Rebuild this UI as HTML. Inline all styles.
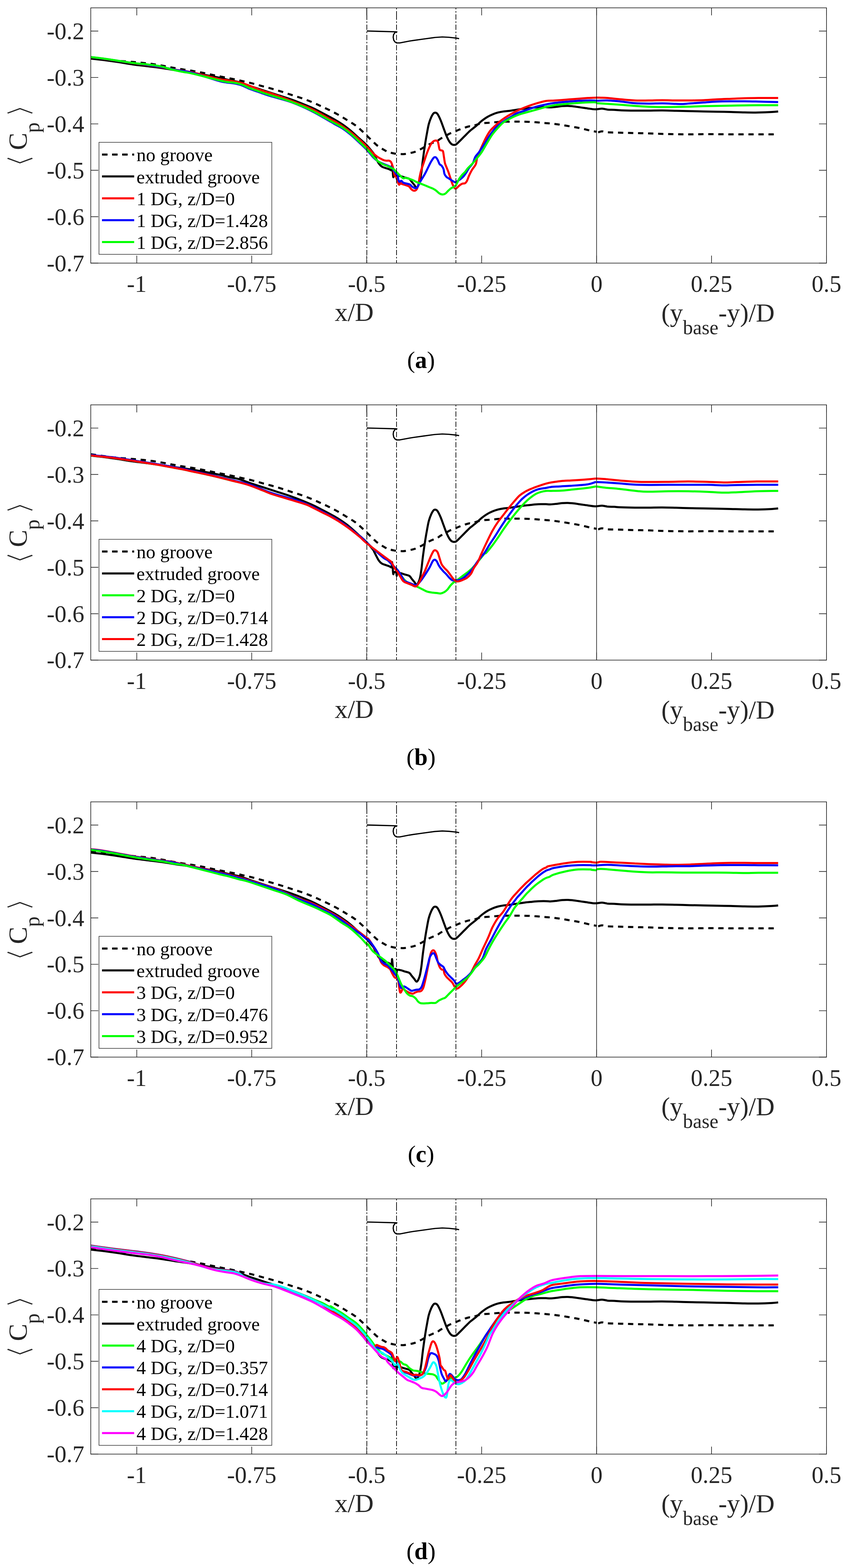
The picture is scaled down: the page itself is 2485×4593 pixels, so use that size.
<!DOCTYPE html>
<html><head><meta charset="utf-8"><title>Pressure coefficient plots</title><style>
html,body{margin:0;padding:0;background:#fff;}
svg{display:block;}
.tl{font-family:"Liberation Serif","Times New Roman",serif;font-size:69.5px;fill:#262626;}
.al{font-family:"Liberation Serif","Times New Roman",serif;font-size:76px;fill:#262626;}
.sub{font-size:58.5px;}
.sub2{font-size:61px;}
.br{font-family:"Liberation Sans","Noto Sans CJK JP","Noto Sans CJK SC",sans-serif;font-size:100px;fill:#262626;}
.lg{font-family:"Liberation Serif","Times New Roman",serif;font-size:55.4px;fill:#000;}
.cap{font-family:"Liberation Serif","Times New Roman",serif;font-size:70px;fill:#000;}
</style></head>
<body><svg width="2485" height="4593" viewBox="0 0 2485 4593">
<rect width="2485" height="4593" fill="#fff"/>
<path d="M266.0 167.5C271.7 168.3 287.7 170.8 300.0 172.5C312.3 174.2 325.0 176.0 340.0 177.5C355.0 179.0 376.8 180.5 390.2 181.6C403.6 182.8 410.5 183.4 420.3 184.4C430.2 185.5 439.5 186.4 449.4 187.9C459.2 189.3 469.6 191.2 479.5 193.0C489.4 194.8 498.9 196.9 508.6 198.6C518.2 200.4 527.9 202.0 537.6 203.6C547.3 205.2 557.1 206.4 566.7 208.1C576.3 209.8 585.9 211.6 595.4 213.5C604.9 215.4 614.5 217.6 624.0 219.6C633.5 221.6 642.8 223.4 652.7 225.4C662.6 227.4 673.3 229.4 683.2 231.5C693.1 233.6 702.4 235.8 712.0 238.0C721.6 240.2 731.2 242.3 740.6 244.7C750.0 247.1 759.2 249.8 768.7 252.4C778.2 255.0 787.8 257.4 797.4 260.1C807.0 262.9 816.5 265.7 826.1 268.7C835.6 271.8 845.2 275.1 854.8 278.2C864.3 281.3 873.9 284.0 883.5 287.4C893.0 290.7 903.1 294.6 912.2 298.3C921.3 302.0 929.4 305.8 938.0 309.8C946.6 313.7 955.0 317.5 963.8 321.8C972.7 326.2 982.2 331.1 991.0 336.0C999.8 340.9 1008.2 346.2 1016.7 351.5C1025.2 356.8 1034.0 361.6 1042.0 367.5C1050.0 373.4 1057.1 380.4 1064.4 387.1C1071.7 393.8 1078.4 400.9 1085.6 407.7C1092.8 414.5 1099.6 421.9 1107.4 427.8C1115.2 433.7 1127.9 440.4 1132.7 443.3C1137.5 446.2 1132.6 443.9 1136.1 444.9C1139.5 445.9 1148.5 448.3 1153.3 449.2C1158.1 450.2 1160.0 450.3 1164.8 450.6C1169.6 451.0 1177.2 451.6 1182.0 451.5C1186.8 451.4 1188.7 450.6 1193.5 449.8C1198.3 448.9 1205.9 447.6 1210.7 446.3C1215.5 445.1 1217.4 444.2 1222.2 442.0C1226.9 439.9 1234.6 436.1 1239.4 433.4C1244.2 430.8 1246.1 428.8 1250.9 426.3C1255.6 423.7 1263.3 420.2 1268.1 418.2C1272.9 416.2 1275.7 416.2 1279.6 414.2C1283.4 412.2 1287.2 408.5 1291.0 406.2C1294.9 403.9 1298.2 402.8 1302.5 400.4C1306.8 398.0 1312.1 394.2 1316.9 391.8C1321.6 389.4 1326.4 388.1 1331.2 386.1C1336.0 384.1 1340.8 381.7 1345.6 379.8C1350.3 377.9 1355.1 376.2 1359.9 374.6C1364.7 373.0 1370.4 371.1 1374.2 370.3C1378.1 369.5 1377.3 371.2 1383.0 369.8C1388.7 368.4 1399.3 363.8 1408.4 362.0C1417.5 360.2 1427.4 360.2 1437.4 359.3C1447.4 358.4 1458.1 357.2 1468.3 356.7C1478.5 356.2 1488.5 356.4 1498.4 356.4C1508.3 356.3 1517.7 356.2 1527.5 356.4C1537.3 356.5 1547.6 356.8 1557.4 357.3C1567.2 357.8 1576.7 358.6 1586.3 359.4C1595.9 360.2 1605.6 360.9 1615.2 361.9C1624.8 362.9 1634.3 364.2 1643.9 365.6C1653.5 367.1 1663.0 368.8 1672.6 370.5C1682.2 372.2 1691.7 373.7 1701.3 375.7C1710.9 377.7 1722.2 380.8 1730.0 382.6C1737.7 384.3 1744.8 385.4 1747.8 386.0" fill="none" stroke="#000" stroke-width="6.0" stroke-linejoin="round" stroke-dasharray="15.5 13.9"/>
<path d="M1752.9 387.9C1754.7 387.3 1759.6 384.7 1764.1 384.7C1768.7 384.6 1770.8 386.8 1780.2 387.5C1789.5 388.1 1807.0 388.3 1820.3 388.7C1833.7 389.1 1847.1 389.6 1860.5 389.9C1873.9 390.2 1887.3 390.3 1900.7 390.7C1914.1 391.1 1927.5 391.9 1940.9 392.3C1954.3 392.7 1967.6 392.9 1981.0 393.1C1994.4 393.3 2007.8 393.5 2021.2 393.5C2034.6 393.5 2048.0 393.2 2061.4 393.1C2074.8 393.0 2088.2 393.0 2101.5 393.1C2114.9 393.2 2128.3 393.4 2141.7 393.5C2155.1 393.6 2168.5 393.5 2181.9 393.5C2195.3 393.5 2205.7 393.5 2222.1 393.5C2238.5 393.5 2270.6 393.5 2280.3 393.5" fill="none" stroke="#000" stroke-width="6.0" stroke-linejoin="round" stroke-dasharray="15.5 13.9"/>
<path d="M265.4 171.5C271.7 172.2 289.6 174.1 303.0 175.8C316.5 177.5 331.7 179.7 346.1 181.9C360.4 184.0 374.8 186.7 389.1 188.7C403.5 190.8 417.8 192.3 432.2 194.1C446.5 195.9 460.9 197.5 475.2 199.5C489.6 201.5 504.1 204.2 518.2 206.4C532.4 208.5 539.7 209.0 560.0 212.4C580.3 215.8 621.2 223.2 640.0 227.0C658.8 230.8 662.5 232.8 672.5 235.0C682.5 237.2 688.8 237.3 700.0 240.5C711.2 243.7 723.8 249.0 740.0 254.4C756.2 259.8 778.3 266.8 797.4 273.0C816.5 279.3 835.6 284.8 854.8 291.7C873.9 298.6 897.8 308.4 912.2 314.6C926.5 320.9 929.6 323.1 940.9 329.0C952.2 334.9 969.6 343.9 980.0 349.8C990.4 355.7 995.4 358.9 1003.0 364.1C1010.6 369.4 1018.3 375.0 1025.9 381.3C1033.6 387.6 1040.9 394.7 1048.9 402.0C1056.9 409.3 1066.6 417.2 1074.1 424.9C1081.5 432.5 1090.0 443.4 1093.6 447.9C1097.2 452.4 1094.3 449.0 1095.9 452.1C1097.5 455.2 1100.7 461.9 1103.1 466.4C1105.5 471.0 1107.6 475.8 1110.3 479.3C1112.9 482.9 1115.5 485.8 1118.9 487.9C1122.2 490.1 1127.0 491.1 1130.3 492.3C1133.7 493.4 1136.6 494.2 1139.0 495.1C1141.3 496.1 1143.3 497.5 1144.7 498.0C1146.1 498.5 1146.8 500.4 1147.6 498.0C1148.3 495.6 1148.5 483.2 1149.0 483.6C1149.5 484.1 1150.1 495.0 1150.7 500.9C1151.3 506.7 1151.8 516.5 1152.4 518.7C1153.1 520.8 1153.1 514.7 1154.4 513.8C1155.8 512.8 1159.1 511.2 1160.5 512.9C1161.8 514.6 1161.9 523.4 1162.5 523.8C1163.1 524.2 1161.9 516.4 1164.2 515.2C1166.5 514.0 1172.8 515.9 1176.3 516.6C1179.7 517.4 1181.0 518.3 1184.9 519.5C1188.7 520.7 1195.6 521.7 1199.2 523.8C1202.8 526.0 1204.0 529.6 1206.4 532.4C1208.8 535.3 1211.2 538.2 1213.6 541.0C1215.9 543.9 1218.6 549.4 1220.7 549.6C1222.9 549.9 1224.8 545.8 1226.5 542.5C1228.1 539.1 1229.3 536.0 1230.8 529.6C1232.2 523.1 1233.6 514.3 1235.1 503.7C1236.5 493.2 1237.7 479.3 1239.4 466.4C1241.1 453.5 1243.2 438.7 1245.1 426.3C1247.0 413.8 1248.9 402.3 1250.9 391.8C1252.8 381.3 1254.4 371.3 1256.6 363.1C1258.8 355.0 1261.4 348.3 1263.8 343.0C1266.2 337.8 1268.8 333.7 1270.9 331.6C1273.1 329.4 1274.8 329.7 1276.7 330.1C1278.6 330.6 1280.0 330.8 1282.4 334.4C1284.8 338.0 1288.2 345.0 1291.0 351.6C1293.9 358.3 1296.8 367.0 1299.6 374.6C1302.5 382.3 1305.4 390.9 1308.2 397.6C1311.1 404.3 1314.0 410.5 1316.9 414.8C1319.7 419.1 1322.4 422.0 1325.5 423.4C1328.6 424.8 1332.2 424.8 1335.5 423.4C1338.9 422.0 1341.5 418.6 1345.6 414.8C1349.6 411.0 1355.1 405.2 1359.9 400.4C1364.7 395.6 1370.9 389.3 1374.2 386.1C1377.6 382.8 1376.4 383.9 1380.0 381.0C1383.6 378.1 1390.5 372.9 1395.8 368.4C1401.1 363.9 1406.3 358.4 1411.6 354.2C1416.8 350.0 1422.0 346.3 1427.3 343.1C1432.5 339.9 1437.8 337.4 1443.1 335.2C1448.4 333.0 1453.6 331.1 1458.9 329.7C1464.2 328.3 1469.4 327.4 1474.7 326.6C1480.0 325.8 1485.2 325.7 1490.5 325.0C1495.8 324.3 1501.0 323.4 1506.3 322.6C1511.5 321.8 1516.8 321.0 1522.0 320.2C1527.2 319.4 1532.5 318.5 1537.8 317.9C1543.1 317.2 1548.3 316.8 1553.6 316.3C1558.9 315.8 1564.1 315.1 1569.4 314.7C1574.7 314.3 1580.1 314.0 1585.2 313.9C1590.3 313.8 1595.5 313.8 1600.0 313.9C1604.5 314.0 1607.4 314.7 1612.3 314.6C1617.3 314.4 1623.8 313.7 1629.6 313.1C1635.3 312.5 1641.0 311.3 1646.8 310.8C1652.5 310.4 1658.2 310.1 1664.0 310.3C1669.7 310.4 1675.0 311.0 1681.2 311.7C1687.4 312.4 1694.6 313.6 1701.3 314.6C1708.0 315.5 1714.2 316.5 1721.4 317.4C1728.6 318.4 1737.2 320.2 1744.3 320.3C1751.5 320.4 1758.2 318.1 1764.4 318.3C1770.6 318.4 1775.7 320.6 1781.6 321.2C1787.6 321.7 1793.5 321.4 1800.0 321.7C1806.5 322.1 1810.3 322.8 1820.3 323.2C1830.4 323.6 1847.1 323.9 1860.5 324.0C1873.9 324.1 1887.3 324.1 1900.7 324.0C1914.1 323.9 1927.5 323.5 1940.9 323.6C1954.3 323.7 1967.6 324.1 1981.0 324.4C1994.4 324.7 2007.8 325.3 2021.2 325.6C2034.6 325.9 2048.0 326.1 2061.4 326.4C2074.8 326.7 2088.2 326.9 2101.5 327.2C2114.9 327.5 2128.3 327.7 2141.7 328.0C2155.1 328.4 2168.5 329.0 2181.9 329.2C2195.3 329.5 2208.7 329.8 2222.1 329.6C2235.5 329.4 2252.5 328.6 2262.2 328.0C2271.9 327.5 2277.3 326.7 2280.3 326.4" fill="none" stroke="#000" stroke-width="6.0" stroke-linejoin="round" />
<path d="M265.4 167.6C271.7 168.4 289.6 170.3 303.0 172.2C316.5 174.0 331.7 176.5 346.1 178.6C360.4 180.8 374.8 183.0 389.1 185.1C403.5 187.1 417.8 188.8 432.2 190.9C446.5 192.9 460.9 195.0 475.2 197.3C489.6 199.7 504.1 202.5 518.2 204.9C532.4 207.2 539.7 206.9 560.0 211.3C580.3 215.7 622.8 227.3 640.0 231.2C657.2 235.1 655.4 233.2 663.0 234.5C670.6 235.8 678.2 237.3 685.9 238.8C693.5 240.3 701.2 241.4 708.9 243.5C716.5 245.6 724.1 248.5 731.8 251.3C739.4 254.1 747.1 257.6 754.8 260.5C762.4 263.4 770.2 266.0 777.7 268.5C785.2 271.0 787.2 270.8 800.0 275.4C812.8 280.0 836.1 288.7 854.8 296.0C873.5 303.3 893.0 309.9 912.2 319.0C931.3 328.0 958.2 344.5 969.6 350.5C980.9 356.5 974.4 351.7 980.0 354.9C985.6 358.1 995.4 364.3 1003.0 369.5C1010.6 374.7 1018.1 379.8 1025.9 385.9C1033.7 392.0 1042.0 398.9 1050.0 406.0C1058.0 413.1 1066.6 421.0 1074.1 428.4C1081.6 435.8 1089.4 445.0 1094.8 450.2C1100.2 455.4 1103.2 457.2 1106.3 459.4C1109.4 461.6 1110.1 461.9 1113.1 463.6C1116.2 465.2 1121.3 468.1 1124.6 469.3C1128.0 470.5 1130.6 470.5 1133.2 470.7C1135.8 471.0 1138.2 470.0 1140.4 470.7C1142.5 471.4 1144.5 472.4 1146.1 475.0C1147.8 477.7 1149.1 482.2 1150.4 486.5C1151.7 490.8 1152.9 496.3 1153.9 500.9C1154.8 505.4 1155.1 510.9 1156.2 513.8C1157.3 516.6 1159.0 515.9 1160.5 518.1C1161.9 520.2 1163.6 523.3 1164.8 526.7C1166.0 530.0 1166.7 535.8 1167.6 538.2C1168.6 540.6 1169.6 541.5 1170.5 541.0C1171.5 540.6 1172.4 535.8 1173.4 535.3C1174.3 534.8 1174.3 537.2 1176.3 538.2C1178.2 539.1 1182.0 540.1 1184.9 541.0C1187.7 542.0 1191.1 542.9 1193.5 543.9C1195.9 544.9 1197.3 545.1 1199.2 546.8C1201.1 548.4 1203.0 552.0 1204.9 553.9C1206.9 555.9 1208.5 557.6 1210.7 558.2C1212.8 558.9 1215.9 558.6 1217.9 557.7C1219.8 556.7 1220.7 555.8 1222.2 552.5C1223.6 549.3 1225.3 543.4 1226.5 538.2C1227.7 532.9 1228.1 527.2 1229.3 520.9C1230.5 514.7 1232.0 507.1 1233.6 500.9C1235.3 494.6 1237.5 489.4 1239.4 483.6C1241.3 477.9 1243.2 472.2 1245.1 466.4C1247.0 460.7 1248.9 454.5 1250.9 449.2C1252.8 444.0 1254.4 439.6 1256.6 434.9C1258.8 430.1 1261.4 424.1 1263.8 420.5C1266.2 416.9 1268.3 414.8 1270.9 413.3C1273.6 411.9 1277.4 411.2 1279.6 411.9C1281.7 412.6 1282.4 413.3 1283.9 417.6C1285.3 422.0 1286.5 433.9 1288.2 437.7C1289.8 441.6 1292.2 439.6 1293.9 440.6C1295.6 441.6 1297.0 440.1 1298.2 443.5C1299.4 446.8 1300.1 454.9 1301.1 460.7C1302.0 466.4 1302.7 473.1 1303.9 477.9C1305.1 482.7 1306.6 485.1 1308.2 489.4C1309.9 493.7 1312.1 498.5 1314.0 503.7C1315.9 509.0 1317.8 515.2 1319.7 520.9C1321.6 526.7 1323.6 533.4 1325.5 538.2C1327.4 542.9 1329.5 547.3 1331.2 549.6C1332.9 552.0 1334.1 552.5 1335.5 552.5C1336.9 552.5 1338.1 551.1 1339.8 549.6C1341.5 548.2 1343.2 545.8 1345.6 543.9C1347.9 542.0 1351.3 539.4 1354.2 538.2C1357.0 537.0 1360.4 538.2 1362.8 536.7C1365.2 535.3 1366.6 533.1 1368.5 529.6C1370.4 526.0 1371.9 520.5 1374.2 515.2C1376.6 509.9 1379.5 503.7 1382.9 498.0C1386.2 492.3 1391.7 487.1 1394.3 480.8C1397.0 474.4 1396.0 468.5 1398.9 460.0C1401.8 451.5 1407.4 439.4 1411.6 429.9C1415.8 420.4 1420.0 411.0 1424.2 403.1C1428.4 395.2 1432.3 388.4 1436.8 382.6C1441.3 376.8 1446.0 373.1 1451.0 368.4C1456.0 363.7 1461.5 358.4 1466.8 354.2C1472.1 350.0 1477.3 346.5 1482.6 343.1C1487.9 339.7 1493.1 336.7 1498.4 333.7C1503.7 330.7 1507.6 328.2 1514.2 325.0C1520.8 321.8 1528.6 318.2 1537.8 314.7C1547.0 311.1 1559.0 306.8 1569.4 303.7C1579.8 300.6 1590.9 297.3 1600.0 295.8C1609.1 294.3 1615.1 295.0 1623.8 294.5C1632.6 293.9 1642.9 293.2 1652.5 292.5C1662.1 291.8 1671.6 290.9 1681.2 290.2C1690.8 289.4 1701.8 288.5 1709.9 287.9C1718.0 287.3 1723.6 287.1 1730.0 286.7C1736.4 286.4 1743.3 285.9 1748.4 285.9C1753.4 285.8 1754.8 286.0 1760.1 286.2C1765.4 286.4 1770.1 286.2 1780.2 287.0C1790.2 287.8 1807.0 289.9 1820.3 291.1C1833.7 292.3 1847.1 293.7 1860.5 294.3C1873.9 294.8 1887.3 294.4 1900.7 294.3C1914.1 294.1 1927.5 293.5 1940.9 293.5C1954.3 293.5 1967.6 294.1 1981.0 294.3C1994.4 294.4 2007.8 294.4 2021.2 294.3C2034.6 294.1 2048.0 294.0 2061.4 293.5C2074.8 292.9 2088.2 291.7 2101.5 291.1C2114.9 290.4 2128.3 290.0 2141.7 289.5C2155.1 288.9 2168.5 288.2 2181.9 287.8C2195.3 287.4 2205.7 287.2 2222.1 287.0C2238.5 286.9 2270.6 287.0 2280.3 287.0" fill="none" stroke="#f00" stroke-width="6.0" stroke-linejoin="round" />
<path d="M265.4 167.2C271.7 168.0 289.6 169.9 303.0 171.7C316.5 173.6 331.7 176.0 346.1 178.2C360.4 180.3 374.8 182.7 389.1 184.6C403.5 186.6 417.8 188.1 432.2 190.0C446.5 192.0 460.9 193.9 475.2 196.5C489.6 199.1 504.1 202.9 518.2 205.5C532.4 208.2 539.7 207.2 560.0 212.4C580.3 217.6 622.8 231.7 640.0 236.5C657.2 241.3 655.4 240.2 663.0 241.5C670.6 242.8 678.2 243.0 685.9 244.4C693.5 245.8 701.2 247.5 708.9 250.2C716.5 252.9 724.1 257.4 731.8 260.5C739.4 263.6 747.1 265.8 754.8 268.5C762.4 271.2 770.2 274.1 777.7 276.6C785.2 279.1 787.2 279.6 800.0 283.5C812.8 287.4 836.1 292.9 854.8 299.7C873.5 306.6 893.0 315.2 912.2 324.7C931.3 334.2 958.2 350.4 969.6 356.8C980.9 363.2 974.4 360.0 980.0 363.2C985.6 366.4 995.4 370.8 1003.0 375.8C1010.6 380.8 1018.3 386.7 1025.9 393.0C1033.6 399.3 1040.9 406.2 1048.9 413.7C1056.9 421.2 1066.4 429.8 1074.1 437.8C1081.8 445.8 1089.3 456.2 1094.8 461.9C1100.3 467.6 1102.9 469.3 1107.4 472.2C1111.9 475.1 1117.0 477.2 1121.7 479.3C1126.5 481.5 1131.8 483.2 1136.1 485.1C1140.4 487.0 1144.7 488.7 1147.6 490.8C1150.4 493.0 1151.4 495.4 1153.3 498.0C1155.2 500.6 1157.1 504.0 1159.0 506.6C1161.0 509.2 1163.3 510.4 1164.8 513.8C1166.2 517.1 1166.7 523.6 1167.6 526.7C1168.6 529.8 1169.1 531.9 1170.5 532.4C1172.0 532.9 1174.3 529.1 1176.3 529.6C1178.2 530.0 1179.1 533.9 1182.0 535.3C1184.9 536.7 1190.1 537.2 1193.5 538.2C1196.8 539.1 1199.7 539.6 1202.1 541.0C1204.5 542.5 1205.4 545.1 1207.8 546.8C1210.2 548.4 1214.0 550.6 1216.4 551.1C1218.8 551.6 1220.3 551.8 1222.2 549.6C1224.1 547.5 1225.5 542.5 1227.9 538.2C1230.3 533.9 1233.6 528.6 1236.5 523.8C1239.4 519.0 1242.3 514.7 1245.1 509.5C1248.0 504.2 1250.9 498.0 1253.7 492.3C1256.6 486.5 1259.5 480.1 1262.3 475.0C1265.2 470.0 1268.6 464.5 1270.9 462.1C1273.3 459.7 1274.8 459.7 1276.7 460.7C1278.6 461.6 1280.5 464.5 1282.4 467.9C1284.3 471.2 1286.3 477.9 1288.2 480.8C1290.1 483.6 1292.0 482.7 1293.9 485.1C1295.8 487.5 1298.2 491.1 1299.6 495.1C1301.1 499.2 1301.1 505.6 1302.5 509.5C1303.9 513.3 1305.9 515.7 1308.2 518.1C1310.6 520.5 1314.0 521.9 1316.9 523.8C1319.7 525.7 1322.6 527.9 1325.5 529.6C1328.3 531.2 1331.7 533.6 1334.1 533.9C1336.5 534.1 1337.4 532.4 1339.8 531.0C1342.2 529.6 1345.6 527.4 1348.4 525.3C1351.3 523.1 1354.2 521.2 1357.0 518.1C1359.9 515.0 1362.8 510.9 1365.6 506.6C1368.5 502.3 1370.9 497.0 1374.2 492.3C1377.6 487.5 1382.7 483.3 1385.7 477.9C1388.8 472.5 1389.6 465.4 1392.6 460.0C1395.6 454.6 1399.2 452.0 1403.7 445.7C1408.2 439.4 1414.2 430.1 1419.5 422.0C1424.8 413.9 1430.0 404.4 1435.2 396.8C1440.5 389.2 1445.7 382.1 1451.0 376.3C1456.3 370.5 1461.5 366.3 1466.8 362.1C1472.1 357.9 1477.3 354.4 1482.6 351.0C1487.9 347.6 1493.1 344.8 1498.4 341.6C1503.7 338.5 1507.6 335.0 1514.2 332.1C1520.8 329.2 1528.6 327.4 1537.8 324.2C1547.0 321.0 1559.0 316.1 1569.4 313.1C1579.8 310.1 1593.8 307.4 1600.0 306.0C1606.2 304.6 1601.7 305.3 1606.6 304.5C1611.5 303.7 1620.9 302.1 1629.6 301.1C1638.2 300.0 1648.7 299.1 1658.2 298.2C1667.8 297.3 1677.4 296.5 1686.9 295.9C1696.5 295.3 1706.6 294.7 1715.6 294.5C1724.7 294.2 1736.1 294.3 1741.5 294.5C1746.8 294.6 1746.7 295.2 1747.8 295.3" fill="none" stroke="#00f" stroke-width="6.0" stroke-linejoin="round" />
<path d="M1748.0 295.1C1753.4 294.9 1768.1 293.9 1780.2 294.3C1792.2 294.7 1807.0 296.2 1820.3 297.5C1833.7 298.8 1847.1 301.3 1860.5 302.3C1873.9 303.3 1887.3 303.4 1900.7 303.5C1914.1 303.6 1927.5 302.6 1940.9 302.7C1954.3 302.8 1971.0 304.0 1981.0 304.3C1991.1 304.7 1994.4 304.9 2001.1 304.7C2007.8 304.5 2011.2 303.8 2021.2 303.1C2031.2 302.4 2048.0 301.2 2061.4 300.3C2074.8 299.4 2088.2 298.1 2101.5 297.5C2114.9 296.9 2128.3 296.8 2141.7 296.7C2155.1 296.6 2168.5 296.6 2181.9 296.7C2195.3 296.8 2205.7 297.1 2222.1 297.5C2238.5 297.9 2270.6 298.8 2280.3 299.1" fill="none" stroke="#00f" stroke-width="6.0" stroke-linejoin="round" />
<path d="M265.4 167.2C271.7 167.9 289.6 169.7 303.0 171.5C316.5 173.3 331.7 175.8 346.1 178.0C360.4 180.1 374.8 182.6 389.1 184.4C403.5 186.2 420.7 187.5 432.2 188.7C443.6 190.0 450.8 190.9 458.0 192.0C465.2 193.0 468.8 193.6 475.2 195.2C481.7 196.8 489.6 199.7 496.7 201.6C503.9 203.6 511.1 205.4 518.2 207.0C525.4 208.6 532.8 210.1 539.8 211.3C546.7 212.6 543.3 210.7 560.0 214.6C576.7 218.5 622.8 230.5 640.0 234.7C657.2 238.9 655.4 238.5 663.0 239.8C670.6 241.1 678.2 241.0 685.9 242.3C693.5 243.7 701.2 245.2 708.9 247.9C716.5 250.6 724.1 255.1 731.8 258.2C739.4 261.2 747.1 263.5 754.8 266.2C762.4 268.9 770.2 271.8 777.7 274.3C785.2 276.8 787.2 277.1 800.0 281.2C812.8 285.3 836.1 291.9 854.8 298.9C873.5 305.9 893.0 313.9 912.2 323.3C931.3 332.6 958.2 348.6 969.6 354.8C980.9 361.1 974.4 357.6 980.0 360.7C985.6 363.8 995.4 368.3 1003.0 373.3C1010.6 378.3 1018.3 384.2 1025.9 390.5C1033.6 396.8 1040.9 403.7 1048.9 411.2C1056.9 418.7 1066.4 427.3 1074.1 435.3C1081.8 443.3 1090.2 454.2 1094.8 459.4C1099.4 464.6 1099.5 464.6 1101.5 466.7C1103.6 468.9 1104.0 469.8 1107.4 472.2C1110.8 474.5 1117.0 478.4 1121.7 480.8C1126.5 483.2 1131.8 484.6 1136.1 486.5C1140.4 488.4 1144.7 490.8 1147.6 492.3C1150.4 493.7 1151.4 493.7 1153.3 495.1C1155.2 496.6 1156.6 498.5 1159.0 500.9C1161.4 503.3 1164.8 506.6 1167.6 509.5C1170.5 512.3 1173.9 515.9 1176.3 518.1C1178.6 520.2 1180.1 521.9 1182.0 522.4C1183.9 522.9 1184.9 520.7 1187.7 520.9C1190.6 521.2 1195.4 522.6 1199.2 523.8C1203.0 525.0 1206.9 526.4 1210.7 528.1C1214.5 529.8 1218.3 532.2 1222.2 533.9C1226.0 535.5 1228.9 536.3 1233.6 538.2C1238.4 540.1 1245.6 543.2 1250.9 545.3C1256.1 547.5 1261.4 549.4 1265.2 551.1C1269.0 552.7 1271.4 553.9 1273.8 555.4C1276.2 556.8 1277.2 557.8 1279.6 559.7C1281.9 561.6 1285.3 565.2 1288.2 566.9C1291.0 568.5 1293.9 569.7 1296.8 569.7C1299.6 569.7 1302.5 568.8 1305.4 566.9C1308.2 564.9 1311.1 560.9 1314.0 558.2C1316.9 555.6 1319.7 553.0 1322.6 551.1C1325.5 549.2 1328.8 548.4 1331.2 546.8C1333.6 545.1 1334.6 544.9 1336.9 541.0C1339.3 537.2 1342.7 528.6 1345.6 523.8C1348.4 519.0 1351.3 515.7 1354.2 512.3C1357.0 509.0 1359.9 507.1 1362.8 503.7C1365.6 500.4 1367.6 496.6 1371.4 492.3C1375.2 487.9 1381.4 482.7 1385.7 477.9C1390.0 473.1 1394.7 466.5 1397.2 463.6C1399.7 460.6 1398.1 463.0 1400.5 460.0C1402.9 457.0 1407.1 452.6 1411.6 445.7C1416.1 438.8 1422.0 427.6 1427.3 418.9C1432.5 410.2 1437.8 401.0 1443.1 393.6C1448.4 386.2 1453.6 380.5 1458.9 374.7C1464.2 368.9 1469.4 363.1 1474.7 358.9C1480.0 354.7 1485.2 352.3 1490.5 349.4C1495.8 346.5 1501.0 344.0 1506.3 341.6C1511.5 339.2 1516.8 337.1 1522.0 335.2C1527.2 333.3 1529.9 332.7 1537.8 330.5C1545.7 328.3 1559.0 324.7 1569.4 321.8C1579.8 318.9 1593.8 314.8 1600.0 313.1C1606.2 311.4 1601.7 312.6 1606.6 311.7C1611.5 310.7 1620.9 308.6 1629.6 307.4C1638.2 306.2 1648.7 305.4 1658.2 304.5C1667.8 303.7 1677.4 302.9 1686.9 302.2C1696.5 301.5 1706.6 300.7 1715.6 300.2C1724.7 299.7 1736.1 299.3 1741.5 299.4C1746.8 299.4 1746.7 300.3 1747.8 300.5" fill="none" stroke="#0f0" stroke-width="6.0" stroke-linejoin="round" />
<path d="M1748.0 302.3C1753.4 302.6 1768.1 303.5 1780.2 304.3C1792.2 305.1 1807.0 306.1 1820.3 307.1C1833.7 308.1 1847.1 309.4 1860.5 310.3C1873.9 311.3 1887.3 312.2 1900.7 312.8C1914.1 313.3 1927.5 313.5 1940.9 313.6C1954.3 313.6 1967.6 313.4 1981.0 313.2C1994.4 313.0 2007.8 312.7 2021.2 312.4C2034.6 312.0 2048.0 311.5 2061.4 311.1C2074.8 310.8 2088.2 310.6 2101.5 310.3C2114.9 310.1 2128.3 309.8 2141.7 309.5C2155.1 309.3 2168.5 308.9 2181.9 308.7C2195.3 308.5 2205.7 308.4 2222.1 308.3C2238.5 308.3 2270.6 308.3 2280.3 308.3" fill="none" stroke="#0f0" stroke-width="6.0" stroke-linejoin="round" />
<line x1="1075.0" y1="23.0" x2="1075.0" y2="770.7" stroke="#000" stroke-width="2" stroke-dasharray="15.5 5 4.5 5" stroke-dashoffset="11"/>
<line x1="1162.0" y1="23.0" x2="1162.0" y2="770.7" stroke="#000" stroke-width="2" stroke-dasharray="15.5 5 4.5 5" stroke-dashoffset="11"/>
<line x1="1336.0" y1="23.0" x2="1336.0" y2="770.7" stroke="#000" stroke-width="2" stroke-dasharray="15.5 5 4.5 5" stroke-dashoffset="11"/>
<path d="M1075 23.0v35.5M1162 33.2v24.8" stroke="#000" stroke-width="2"/>
<line x1="1748.3" y1="23.0" x2="1748.3" y2="770.7" stroke="#000" stroke-width="1.6"/>
<path d="M1075.0 90.8 L1104.0 91.6 L1163.0 93.2 L1157.6 95.0 L1153.3 101.5 L1152.2 109.0 L1153.8 117.6 L1157.6 123.0 L1162.0 125.7 L1171.6 125.7 L1200.0 120.3 L1210.7 118.6 L1240.0 114.5 L1274.1 109.8 L1296.1 108.3 L1315.6 109.3 L1336.1 111.5 L1345.4 113.2" fill="none" stroke="#000" stroke-width="3.6" stroke-linejoin="round"/>
<rect x="266.0" y="23.0" width="2156.0" height="747.7" fill="none" stroke="#262626" stroke-width="1.9"/>
<path d="M400.8 770.7v-22M400.8 23.0v22M737.6 770.7v-22M737.6 23.0v22M1074.5 770.7v-22M1074.5 23.0v22M1411.4 770.7v-22M1411.4 23.0v22M1748.3 770.7v-22M1748.3 23.0v22M2085.1 770.7v-22M2085.1 23.0v22M2422.0 770.7v-22M2422.0 23.0v22M266.0 91.0h22M2422.0 91.0h-22M266.0 226.9h22M2422.0 226.9h-22M266.0 362.9h22M2422.0 362.9h-22M266.0 498.8h22M2422.0 498.8h-22M266.0 634.8h22M2422.0 634.8h-22M266.0 770.7h22M2422.0 770.7h-22" stroke="#262626" stroke-width="1.9" fill="none"/>
<text x="400.8" y="855.0" class="tl" text-anchor="middle">-1</text>
<text x="737.6" y="855.0" class="tl" text-anchor="middle">-0.75</text>
<text x="1074.5" y="855.0" class="tl" text-anchor="middle">-0.5</text>
<text x="1411.4" y="855.0" class="tl" text-anchor="middle">-0.25</text>
<text x="1748.3" y="855.0" class="tl" text-anchor="middle">0</text>
<text x="2085.1" y="855.0" class="tl" text-anchor="middle">0.25</text>
<text x="2422.0" y="855.0" class="tl" text-anchor="middle">0.5</text>
<text x="247" y="114.8" class="tl" text-anchor="end">-0.2</text>
<text x="247" y="250.7" class="tl" text-anchor="end">-0.3</text>
<text x="247" y="386.7" class="tl" text-anchor="end">-0.4</text>
<text x="247" y="522.6" class="tl" text-anchor="end">-0.5</text>
<text x="247" y="658.6" class="tl" text-anchor="end">-0.6</text>
<text x="247" y="794.5" class="tl" text-anchor="end">-0.7</text>
<text x="1038" y="940.4" class="al" text-anchor="middle">x/D</text>
<text x="1938" y="941.6" class="al">(y<tspan class="sub" dy="36.9">base</tspan><tspan dy="-36.9">-y)/D</tspan></text>
<g transform="translate(77.5 397.5) rotate(-90)">
<text class="br" transform="translate(-108.5 11.2) scale(0.463 0.804)">&#x3008;</text>
<text x="-42" y="0" class="al">C</text>
<text x="8.4" y="37.6" class="al sub2">p</text>
<text class="br" transform="translate(62.2 11.2) scale(0.46 0.804)">&#x3009;</text>
</g>
<rect x="290.1" y="416.8" width="506.4" height="328.2" fill="#fff" stroke="#262626" stroke-width="1.6"/>
<line x1="298.9" y1="452.7" x2="393.2" y2="452.7" stroke="#000" stroke-width="6" stroke-dasharray="16.2 13.3"/>
<text x="400" y="472.4" class="lg">no groove</text>
<line x1="298.9" y1="516.8" x2="393.2" y2="516.8" stroke="#000" stroke-width="6" />
<text x="400" y="536.5" class="lg">extruded groove</text>
<line x1="298.9" y1="580.9" x2="393.2" y2="580.9" stroke="#f00" stroke-width="6" />
<text x="400" y="600.6" class="lg">1 DG, z/D=0</text>
<line x1="298.9" y1="645.0" x2="393.2" y2="645.0" stroke="#00f" stroke-width="6" />
<text x="400" y="664.7" class="lg">1 DG, z/D=1.428</text>
<line x1="298.9" y1="709.1" x2="393.2" y2="709.1" stroke="#0f0" stroke-width="6" />
<text x="400" y="728.8" class="lg">1 DG, z/D=2.856</text>
<text x="1233.8" y="1078.0" class="cap" text-anchor="middle">(<tspan font-weight="bold">a</tspan>)</text>
<path d="M266.0 1330.4C271.7 1331.2 287.7 1333.7 300.0 1335.4C312.3 1337.1 325.0 1338.9 340.0 1340.4C355.0 1341.9 376.8 1343.4 390.2 1344.5C403.6 1345.7 410.5 1346.3 420.3 1347.3C430.2 1348.4 439.5 1349.3 449.4 1350.8C459.2 1352.2 469.6 1354.1 479.5 1355.9C489.4 1357.7 498.9 1359.8 508.6 1361.5C518.2 1363.3 527.9 1364.9 537.6 1366.5C547.3 1368.1 557.1 1369.3 566.7 1371.0C576.3 1372.7 585.9 1374.5 595.4 1376.4C604.9 1378.3 614.5 1380.5 624.0 1382.5C633.5 1384.5 642.8 1386.3 652.7 1388.3C662.6 1390.3 673.3 1392.3 683.2 1394.4C693.1 1396.5 702.4 1398.7 712.0 1400.9C721.6 1403.1 731.2 1405.2 740.6 1407.6C750.0 1410.0 759.2 1412.7 768.7 1415.3C778.2 1417.9 787.8 1420.3 797.4 1423.0C807.0 1425.8 816.5 1428.6 826.1 1431.6C835.6 1434.7 845.2 1438.0 854.8 1441.1C864.3 1444.2 873.9 1446.9 883.5 1450.3C893.0 1453.6 903.1 1457.5 912.2 1461.2C921.3 1464.9 929.4 1468.7 938.0 1472.7C946.6 1476.6 955.0 1480.4 963.8 1484.7C972.7 1489.1 982.2 1494.0 991.0 1498.9C999.8 1503.8 1008.2 1509.2 1016.7 1514.4C1025.2 1519.7 1034.0 1524.5 1042.0 1530.4C1050.0 1536.3 1057.1 1543.3 1064.4 1550.0C1071.7 1556.7 1078.4 1563.8 1085.6 1570.6C1092.8 1577.4 1099.6 1584.8 1107.4 1590.7C1115.2 1596.6 1127.9 1603.3 1132.7 1606.2C1137.5 1609.1 1132.6 1606.8 1136.1 1607.8C1139.5 1608.8 1148.5 1611.2 1153.3 1612.1C1158.1 1613.1 1160.0 1613.2 1164.8 1613.5C1169.6 1613.9 1177.2 1614.5 1182.0 1614.4C1186.8 1614.3 1188.7 1613.5 1193.5 1612.7C1198.3 1611.8 1205.9 1610.5 1210.7 1609.2C1215.5 1608.0 1217.4 1607.1 1222.2 1604.9C1226.9 1602.8 1234.6 1599.0 1239.4 1596.3C1244.2 1593.7 1246.1 1591.7 1250.9 1589.2C1255.6 1586.6 1263.3 1583.1 1268.1 1581.1C1272.9 1579.1 1275.7 1579.1 1279.6 1577.1C1283.4 1575.1 1287.2 1571.4 1291.0 1569.1C1294.9 1566.8 1298.2 1565.7 1302.5 1563.3C1306.8 1560.9 1312.1 1557.1 1316.9 1554.7C1321.6 1552.3 1326.4 1551.0 1331.2 1549.0C1336.0 1547.0 1340.8 1544.6 1345.6 1542.7C1350.3 1540.8 1355.1 1539.1 1359.9 1537.5C1364.7 1535.9 1370.4 1534.0 1374.2 1533.2C1378.1 1532.4 1377.3 1534.1 1383.0 1532.7C1388.7 1531.3 1399.3 1526.7 1408.4 1524.9C1417.5 1523.2 1427.4 1523.1 1437.4 1522.2C1447.4 1521.3 1458.1 1520.1 1468.3 1519.6C1478.5 1519.1 1488.5 1519.4 1498.4 1519.3C1508.3 1519.3 1517.7 1519.2 1527.5 1519.3C1537.3 1519.5 1547.6 1519.7 1557.4 1520.2C1567.2 1520.7 1576.7 1521.5 1586.3 1522.3C1595.9 1523.1 1605.6 1523.8 1615.2 1524.8C1624.8 1525.8 1634.3 1527.1 1643.9 1528.5C1653.5 1530.0 1663.0 1531.7 1672.6 1533.4C1682.2 1535.1 1691.7 1536.6 1701.3 1538.6C1710.9 1540.6 1722.2 1543.7 1730.0 1545.5C1737.7 1547.2 1744.8 1548.3 1747.8 1548.9" fill="none" stroke="#000" stroke-width="6.0" stroke-linejoin="round" stroke-dasharray="15.5 13.9"/>
<path d="M1752.9 1550.8C1754.7 1550.2 1759.6 1547.6 1764.1 1547.6C1768.7 1547.5 1770.8 1549.7 1780.2 1550.4C1789.5 1551.0 1807.0 1551.2 1820.3 1551.6C1833.7 1552.0 1847.1 1552.5 1860.5 1552.8C1873.9 1553.1 1887.3 1553.2 1900.7 1553.6C1914.1 1554.0 1927.5 1554.8 1940.9 1555.2C1954.3 1555.6 1967.6 1555.8 1981.0 1556.0C1994.4 1556.2 2007.8 1556.4 2021.2 1556.4C2034.6 1556.4 2048.0 1556.1 2061.4 1556.0C2074.8 1555.9 2088.2 1555.9 2101.5 1556.0C2114.9 1556.1 2128.3 1556.3 2141.7 1556.4C2155.1 1556.5 2168.5 1556.4 2181.9 1556.4C2195.3 1556.4 2205.7 1556.4 2222.1 1556.4C2238.5 1556.4 2270.6 1556.4 2280.3 1556.4" fill="none" stroke="#000" stroke-width="6.0" stroke-linejoin="round" stroke-dasharray="15.5 13.9"/>
<path d="M265.4 1334.4C271.7 1335.1 289.6 1337.0 303.0 1338.7C316.5 1340.4 331.7 1342.6 346.1 1344.8C360.4 1346.9 374.8 1349.6 389.1 1351.6C403.5 1353.7 417.8 1355.2 432.2 1357.0C446.5 1358.8 460.9 1360.4 475.2 1362.4C489.6 1364.4 504.1 1367.1 518.2 1369.3C532.4 1371.4 539.7 1371.9 560.0 1375.3C580.3 1378.7 621.2 1386.1 640.0 1389.9C658.8 1393.7 662.5 1395.7 672.5 1397.9C682.5 1400.2 688.8 1400.2 700.0 1403.4C711.2 1406.6 723.8 1411.9 740.0 1417.3C756.2 1422.7 778.3 1429.7 797.4 1435.9C816.5 1442.2 835.6 1447.7 854.8 1454.6C873.9 1461.5 897.8 1471.3 912.2 1477.5C926.5 1483.8 929.6 1486.0 940.9 1491.9C952.2 1497.8 969.6 1506.8 980.0 1512.7C990.4 1518.6 995.4 1521.8 1003.0 1527.0C1010.6 1532.2 1018.3 1537.9 1025.9 1544.2C1033.6 1550.5 1040.9 1557.6 1048.9 1564.9C1056.9 1572.2 1066.6 1580.2 1074.1 1587.8C1081.5 1595.5 1090.0 1606.3 1093.6 1610.8C1097.2 1615.3 1094.3 1611.9 1095.9 1615.0C1097.5 1618.1 1100.7 1624.8 1103.1 1629.3C1105.5 1633.9 1107.6 1638.7 1110.3 1642.2C1112.9 1645.8 1115.5 1648.7 1118.9 1650.8C1122.2 1653.0 1127.0 1654.0 1130.3 1655.2C1133.7 1656.3 1136.6 1657.1 1139.0 1658.0C1141.3 1659.0 1143.3 1660.4 1144.7 1660.9C1146.1 1661.4 1146.8 1663.3 1147.6 1660.9C1148.3 1658.5 1148.5 1646.1 1149.0 1646.5C1149.5 1647.0 1150.1 1657.9 1150.7 1663.8C1151.3 1669.6 1151.8 1679.4 1152.4 1681.6C1153.1 1683.7 1153.1 1677.6 1154.4 1676.7C1155.8 1675.7 1159.1 1674.1 1160.5 1675.8C1161.8 1677.5 1161.9 1686.3 1162.5 1686.7C1163.1 1687.1 1161.9 1679.3 1164.2 1678.1C1166.5 1676.9 1172.8 1678.8 1176.3 1679.5C1179.7 1680.3 1181.0 1681.2 1184.9 1682.4C1188.7 1683.6 1195.6 1684.6 1199.2 1686.7C1202.8 1688.9 1204.0 1692.5 1206.4 1695.3C1208.8 1698.2 1211.2 1701.1 1213.6 1703.9C1215.9 1706.8 1218.6 1712.3 1220.7 1712.5C1222.9 1712.8 1224.8 1708.7 1226.5 1705.4C1228.1 1702.0 1229.3 1698.9 1230.8 1692.5C1232.2 1686.0 1233.6 1677.2 1235.1 1666.6C1236.5 1656.1 1237.7 1642.2 1239.4 1629.3C1241.1 1616.4 1243.2 1601.6 1245.1 1589.2C1247.0 1576.7 1248.9 1565.2 1250.9 1554.7C1252.8 1544.2 1254.4 1534.2 1256.6 1526.0C1258.8 1517.9 1261.4 1511.2 1263.8 1505.9C1266.2 1500.7 1268.8 1496.6 1270.9 1494.5C1273.1 1492.3 1274.8 1492.6 1276.7 1493.0C1278.6 1493.5 1280.0 1493.7 1282.4 1497.3C1284.8 1500.9 1288.2 1507.9 1291.0 1514.5C1293.9 1521.2 1296.8 1529.9 1299.6 1537.5C1302.5 1545.2 1305.4 1553.8 1308.2 1560.5C1311.1 1567.2 1314.0 1573.4 1316.9 1577.7C1319.7 1582.0 1322.4 1584.9 1325.5 1586.3C1328.6 1587.7 1332.2 1587.7 1335.5 1586.3C1338.9 1584.9 1341.5 1581.5 1345.6 1577.7C1349.6 1573.9 1355.1 1568.1 1359.9 1563.3C1364.7 1558.5 1370.9 1552.2 1374.2 1549.0C1377.6 1545.7 1376.4 1546.8 1380.0 1543.9C1383.6 1541.0 1390.5 1535.8 1395.8 1531.3C1401.1 1526.8 1406.3 1521.3 1411.6 1517.1C1416.8 1512.9 1422.0 1509.2 1427.3 1506.0C1432.5 1502.8 1437.8 1500.3 1443.1 1498.1C1448.4 1495.9 1453.6 1494.0 1458.9 1492.6C1464.2 1491.2 1469.4 1490.3 1474.7 1489.5C1480.0 1488.7 1485.2 1488.6 1490.5 1487.9C1495.8 1487.2 1501.0 1486.3 1506.3 1485.5C1511.5 1484.7 1516.8 1483.9 1522.0 1483.1C1527.2 1482.3 1532.5 1481.5 1537.8 1480.8C1543.1 1480.2 1548.3 1479.7 1553.6 1479.2C1558.9 1478.7 1564.1 1478.0 1569.4 1477.6C1574.7 1477.2 1580.1 1476.9 1585.2 1476.8C1590.3 1476.7 1595.5 1476.7 1600.0 1476.8C1604.5 1476.9 1607.4 1477.6 1612.3 1477.5C1617.3 1477.3 1623.8 1476.6 1629.6 1476.0C1635.3 1475.4 1641.0 1474.2 1646.8 1473.7C1652.5 1473.3 1658.2 1473.0 1664.0 1473.2C1669.7 1473.3 1675.0 1473.9 1681.2 1474.6C1687.4 1475.3 1694.6 1476.5 1701.3 1477.5C1708.0 1478.4 1714.2 1479.4 1721.4 1480.3C1728.6 1481.3 1737.2 1483.1 1744.3 1483.2C1751.5 1483.3 1758.2 1481.0 1764.4 1481.2C1770.6 1481.3 1775.7 1483.5 1781.6 1484.1C1787.6 1484.6 1793.5 1484.3 1800.0 1484.6C1806.5 1485.0 1810.3 1485.7 1820.3 1486.1C1830.4 1486.5 1847.1 1486.8 1860.5 1486.9C1873.9 1487.0 1887.3 1487.0 1900.7 1486.9C1914.1 1486.8 1927.5 1486.4 1940.9 1486.5C1954.3 1486.6 1967.6 1487.0 1981.0 1487.3C1994.4 1487.6 2007.8 1488.2 2021.2 1488.5C2034.6 1488.8 2048.0 1489.0 2061.4 1489.3C2074.8 1489.6 2088.2 1489.8 2101.5 1490.1C2114.9 1490.4 2128.3 1490.6 2141.7 1490.9C2155.1 1491.3 2168.5 1491.9 2181.9 1492.1C2195.3 1492.4 2208.7 1492.7 2222.1 1492.5C2235.5 1492.3 2252.5 1491.5 2262.2 1490.9C2271.9 1490.4 2277.3 1489.6 2280.3 1489.3" fill="none" stroke="#000" stroke-width="6.0" stroke-linejoin="round" />
<path d="M265.4 1334.1C276.4 1335.3 308.7 1338.3 331.7 1341.2C354.8 1344.2 382.1 1348.7 403.5 1352.0C424.8 1355.3 443.9 1358.3 460.0 1361.0C476.1 1363.7 486.7 1365.9 500.0 1368.4C513.3 1370.9 530.0 1373.8 540.0 1375.8C550.0 1377.8 546.7 1377.3 560.0 1380.2C573.3 1383.1 600.0 1388.6 620.0 1393.2C640.0 1397.8 662.3 1403.7 680.0 1408.0C697.7 1412.3 711.2 1414.3 726.0 1419.0C740.8 1423.7 756.8 1431.5 768.7 1436.0C780.6 1440.6 778.3 1440.4 797.4 1446.4C816.5 1452.3 859.6 1463.3 883.5 1471.9C907.4 1480.5 921.7 1488.4 940.9 1498.0C960.0 1507.6 979.1 1517.2 998.2 1529.6C1017.4 1542.0 1043.0 1562.7 1055.6 1572.6C1068.3 1582.6 1067.1 1582.8 1074.3 1589.3C1081.5 1595.8 1090.8 1605.0 1098.7 1611.7C1106.6 1618.3 1115.5 1624.6 1121.7 1629.4C1128.0 1634.3 1131.3 1636.6 1136.1 1640.9C1140.9 1645.2 1145.6 1650.5 1150.4 1655.3C1155.2 1660.0 1160.5 1664.3 1164.8 1669.6C1169.1 1674.9 1172.9 1682.0 1176.3 1686.8C1179.6 1691.6 1182.0 1695.2 1184.9 1698.3C1187.7 1701.4 1189.6 1703.1 1193.5 1705.5C1197.3 1707.9 1203.5 1710.7 1207.8 1712.6C1212.1 1714.6 1215.9 1715.5 1219.3 1716.9C1222.6 1718.4 1224.6 1719.6 1227.9 1721.2C1231.3 1722.9 1235.6 1725.1 1239.4 1727.0C1243.2 1728.9 1246.6 1731.3 1250.9 1732.7C1255.2 1734.2 1260.4 1734.9 1265.2 1735.6C1270.0 1736.3 1275.3 1736.6 1279.6 1737.0C1283.9 1737.5 1287.2 1738.9 1291.0 1738.5C1294.9 1738.0 1299.2 1736.1 1302.5 1734.2C1305.9 1732.2 1308.2 1730.1 1311.1 1727.0C1314.0 1723.9 1316.9 1718.9 1319.7 1715.5C1322.6 1712.2 1325.5 1709.3 1328.3 1706.9C1331.2 1704.5 1333.6 1703.6 1336.9 1701.2C1340.3 1698.8 1344.6 1695.4 1348.4 1692.6C1352.2 1689.7 1356.1 1686.8 1359.9 1683.9C1363.7 1681.1 1367.6 1678.4 1371.4 1675.3C1375.2 1672.2 1379.0 1669.1 1382.9 1665.3C1386.7 1661.5 1390.0 1657.4 1394.3 1652.4C1398.6 1647.4 1403.9 1640.9 1408.7 1635.2C1413.5 1629.4 1420.4 1620.5 1423.0 1617.9C1425.6 1615.4 1420.8 1623.4 1424.2 1620.0C1427.5 1616.6 1437.3 1604.7 1443.1 1597.3C1448.9 1589.8 1453.6 1582.8 1458.9 1575.2C1464.2 1567.6 1469.4 1559.1 1474.7 1551.5C1480.0 1543.9 1485.2 1536.5 1490.5 1529.4C1495.7 1522.3 1501.0 1515.5 1506.3 1508.9C1511.5 1502.3 1516.8 1496.0 1522.0 1490.0C1527.3 1483.9 1532.6 1477.9 1537.8 1472.6C1543.1 1467.3 1548.3 1462.6 1553.6 1458.4C1558.9 1454.2 1564.1 1450.2 1569.4 1447.3C1574.6 1444.5 1580.1 1442.6 1585.2 1441.0C1590.3 1439.5 1595.1 1438.4 1600.0 1437.9C1604.9 1437.4 1607.5 1438.0 1614.8 1437.9C1622.0 1437.8 1633.9 1437.9 1643.5 1437.3C1653.0 1436.7 1659.3 1435.8 1672.2 1434.4C1685.1 1433.1 1708.5 1430.9 1720.9 1429.3C1733.4 1427.7 1742.5 1425.5 1746.8 1424.7" fill="none" stroke="#0f0" stroke-width="6.0" stroke-linejoin="round" />
<path d="M1749.1 1425.3C1753.5 1425.8 1764.4 1427.6 1775.5 1428.7C1786.6 1429.9 1799.4 1430.4 1815.6 1432.2C1831.9 1433.9 1858.7 1437.7 1873.0 1439.0C1887.4 1440.4 1887.4 1440.2 1901.7 1440.2C1916.1 1440.2 1940.0 1439.2 1959.1 1439.0C1978.2 1438.8 1997.4 1438.8 2016.5 1439.0C2035.6 1439.3 2056.7 1440.1 2073.9 1440.8C2091.1 1441.4 2105.5 1442.9 2119.8 1443.1C2134.1 1443.2 2143.7 1442.6 2160.0 1441.9C2176.2 1441.2 2197.3 1439.7 2217.4 1439.0C2237.4 1438.4 2270.0 1438.1 2280.5 1437.9" fill="none" stroke="#0f0" stroke-width="6.0" stroke-linejoin="round" />
<path d="M265.4 1332.6C276.4 1333.8 308.7 1336.8 331.7 1339.8C354.8 1342.8 382.1 1347.3 403.5 1350.6C424.8 1353.9 443.9 1356.8 460.0 1359.5C476.1 1362.2 486.7 1364.3 500.0 1366.7C513.3 1369.1 530.0 1372.0 540.0 1374.0C550.0 1376.0 546.7 1375.7 560.0 1378.7C573.3 1381.7 600.0 1387.4 620.0 1392.0C640.0 1396.6 662.3 1402.2 680.0 1406.5C697.7 1410.8 711.2 1413.0 726.0 1417.5C740.8 1422.0 756.8 1429.2 768.7 1433.7C780.6 1438.3 778.3 1438.5 797.4 1444.6C816.5 1450.8 859.6 1461.8 883.5 1470.5C907.4 1479.2 921.7 1487.2 940.9 1496.9C960.0 1506.5 979.1 1516.0 998.2 1528.4C1017.4 1540.9 1043.0 1561.4 1055.6 1571.5C1068.3 1581.6 1063.3 1578.8 1074.3 1589.0C1085.3 1599.1 1111.4 1623.6 1121.7 1632.3C1132.0 1641.0 1131.3 1637.1 1136.1 1640.9C1140.9 1644.7 1145.6 1650.5 1150.4 1655.3C1155.2 1660.0 1160.5 1664.3 1164.8 1669.6C1169.1 1674.9 1172.9 1681.6 1176.3 1686.8C1179.6 1692.1 1182.0 1698.1 1184.9 1701.2C1187.7 1704.3 1190.1 1704.0 1193.5 1705.5C1196.8 1706.9 1201.1 1708.3 1204.9 1709.8C1208.8 1711.2 1213.6 1713.6 1216.4 1714.1C1219.3 1714.6 1219.8 1714.3 1222.2 1712.6C1224.6 1711.0 1227.9 1707.4 1230.8 1704.0C1233.6 1700.7 1236.0 1697.3 1239.4 1692.6C1242.7 1687.8 1247.5 1680.6 1250.9 1675.3C1254.2 1670.1 1256.6 1666.3 1259.5 1661.0C1262.3 1655.7 1265.7 1647.4 1268.1 1643.8C1270.5 1640.2 1271.9 1639.5 1273.8 1639.5C1275.7 1639.5 1277.6 1641.1 1279.6 1643.8C1281.5 1646.4 1283.4 1651.9 1285.3 1655.3C1287.2 1658.6 1288.6 1660.8 1291.0 1663.9C1293.4 1667.0 1296.8 1670.8 1299.6 1673.9C1302.5 1677.0 1305.4 1679.4 1308.2 1682.5C1311.1 1685.6 1314.0 1689.7 1316.9 1692.6C1319.7 1695.4 1322.6 1698.5 1325.5 1699.7C1328.3 1700.9 1331.2 1699.7 1334.1 1699.7C1336.9 1699.7 1339.3 1700.4 1342.7 1699.7C1346.0 1699.0 1350.3 1697.6 1354.2 1695.4C1358.0 1693.3 1361.8 1690.2 1365.6 1686.8C1369.5 1683.5 1373.3 1679.6 1377.1 1675.3C1380.9 1671.0 1384.8 1666.3 1388.6 1661.0C1392.4 1655.7 1396.2 1649.0 1400.1 1643.8C1403.9 1638.5 1408.3 1633.4 1411.5 1629.4C1414.8 1625.5 1415.5 1625.9 1419.5 1620.0C1423.4 1614.1 1430.0 1602.4 1435.2 1594.1C1440.5 1585.9 1445.8 1578.6 1451.0 1570.4C1456.3 1562.3 1461.5 1553.3 1466.8 1545.2C1472.1 1537.0 1477.3 1529.1 1482.6 1521.5C1487.8 1513.9 1493.1 1506.5 1498.4 1499.4C1503.6 1492.3 1508.9 1485.2 1514.1 1478.9C1519.4 1472.6 1524.7 1466.5 1529.9 1461.5C1535.2 1456.6 1540.4 1452.6 1545.7 1448.9C1551.0 1445.2 1556.2 1442.1 1561.5 1439.5C1566.8 1436.8 1570.9 1434.9 1577.3 1433.1C1583.7 1431.4 1593.7 1430.3 1600.0 1429.2C1606.3 1428.1 1607.5 1427.2 1614.8 1426.4C1622.0 1425.7 1633.9 1425.3 1643.5 1424.7C1653.0 1424.1 1659.3 1423.9 1672.2 1423.0C1685.1 1422.0 1708.5 1420.9 1720.9 1419.0C1733.4 1417.0 1742.5 1412.7 1746.8 1411.5" fill="none" stroke="#00f" stroke-width="6.0" stroke-linejoin="round" />
<path d="M1749.1 1412.1C1753.5 1412.3 1764.4 1412.5 1775.5 1413.2C1786.6 1413.9 1799.4 1414.9 1815.6 1416.1C1831.9 1417.2 1849.1 1419.4 1873.0 1420.1C1896.9 1420.8 1935.2 1420.1 1959.1 1420.1C1983.0 1420.1 1997.4 1420.1 2016.5 1420.1C2035.6 1420.1 2056.7 1419.8 2073.9 1420.1C2091.1 1420.4 2105.5 1421.7 2119.8 1421.8C2134.1 1421.9 2143.7 1421.0 2160.0 1420.7C2176.2 1420.4 2197.3 1420.2 2217.4 1420.1C2237.4 1420.0 2270.0 1420.1 2280.5 1420.1" fill="none" stroke="#00f" stroke-width="6.0" stroke-linejoin="round" />
<path d="M265.4 1334.1C276.4 1335.3 308.7 1338.3 331.7 1341.2C354.8 1344.2 382.1 1348.7 403.5 1352.0C424.8 1355.3 443.9 1358.3 460.0 1361.0C476.1 1363.7 486.7 1365.9 500.0 1368.4C513.3 1370.9 530.0 1373.8 540.0 1375.8C550.0 1377.8 546.7 1377.3 560.0 1380.2C573.3 1383.1 600.0 1388.6 620.0 1393.2C640.0 1397.8 662.3 1403.5 680.0 1408.0C697.7 1412.5 711.2 1415.3 726.0 1420.0C740.8 1424.7 756.8 1431.5 768.7 1436.0C780.6 1440.6 787.8 1444.2 797.4 1447.5C807.0 1450.9 816.5 1453.3 826.1 1456.1C835.6 1459.0 845.2 1461.9 854.8 1464.7C864.3 1467.6 875.8 1471.0 883.5 1473.3C891.1 1475.7 895.9 1477.2 900.7 1479.1C905.5 1481.0 905.5 1481.5 912.2 1484.8C918.9 1488.2 931.3 1494.4 940.9 1499.2C950.4 1504.0 960.0 1508.3 969.6 1513.5C979.1 1518.8 988.7 1524.5 998.2 1530.7C1007.8 1537.0 1017.4 1543.6 1026.9 1550.8C1036.5 1558.0 1047.7 1567.1 1055.6 1573.8C1063.5 1580.5 1060.9 1580.3 1074.3 1591.0C1087.7 1601.7 1124.3 1629.2 1136.1 1638.0C1147.8 1646.8 1142.3 1641.4 1144.7 1643.8C1147.1 1646.2 1148.5 1649.0 1150.4 1652.4C1152.3 1655.7 1153.8 1660.0 1156.2 1663.9C1158.6 1667.7 1161.9 1671.0 1164.8 1675.3C1167.6 1679.6 1170.5 1685.1 1173.4 1689.7C1176.3 1694.2 1178.6 1699.5 1182.0 1702.6C1185.3 1705.7 1189.6 1706.7 1193.5 1708.3C1197.3 1710.0 1201.1 1711.1 1204.9 1712.6C1208.8 1714.2 1213.6 1717.3 1216.4 1717.8C1219.3 1718.3 1220.3 1717.3 1222.2 1715.5C1224.1 1713.7 1225.5 1711.2 1227.9 1706.9C1230.3 1702.6 1233.6 1695.4 1236.5 1689.7C1239.4 1683.9 1242.7 1677.7 1245.1 1672.5C1247.5 1667.2 1248.9 1662.9 1250.9 1658.1C1252.8 1653.3 1254.4 1649.0 1256.6 1643.8C1258.8 1638.5 1261.4 1631.6 1263.8 1626.6C1266.2 1621.5 1268.8 1616.0 1270.9 1613.6C1273.1 1611.3 1274.8 1611.5 1276.7 1612.2C1278.6 1612.9 1280.5 1614.1 1282.4 1617.9C1284.3 1621.8 1286.3 1629.4 1288.2 1635.2C1290.1 1640.9 1291.5 1647.6 1293.9 1652.4C1296.3 1657.2 1299.6 1660.5 1302.5 1663.9C1305.4 1667.2 1308.2 1669.1 1311.1 1672.5C1314.0 1675.8 1316.9 1680.1 1319.7 1683.9C1322.6 1687.8 1325.5 1692.3 1328.3 1695.4C1331.2 1698.5 1334.1 1701.4 1336.9 1702.6C1339.8 1703.8 1342.2 1703.3 1345.6 1702.6C1348.9 1701.9 1353.2 1700.0 1357.0 1698.3C1360.9 1696.6 1364.7 1695.4 1368.5 1692.6C1372.3 1689.7 1376.6 1685.9 1380.0 1681.1C1383.3 1676.3 1385.2 1669.6 1388.6 1663.9C1391.9 1658.1 1396.2 1654.0 1400.1 1646.6C1403.9 1639.3 1407.0 1630.1 1411.6 1620.0C1416.1 1609.9 1422.1 1597.1 1427.3 1586.2C1432.6 1575.3 1437.9 1564.1 1443.1 1554.7C1448.4 1545.2 1453.6 1537.0 1458.9 1529.4C1464.2 1521.8 1469.4 1515.7 1474.7 1508.9C1480.0 1502.1 1485.2 1495.0 1490.5 1488.4C1495.7 1481.8 1501.0 1475.5 1506.3 1469.4C1511.5 1463.4 1516.8 1456.8 1522.0 1452.1C1527.3 1447.3 1532.6 1444.2 1537.8 1441.0C1543.1 1437.9 1548.3 1435.5 1553.6 1433.1C1558.9 1430.8 1564.1 1428.8 1569.4 1426.8C1574.6 1424.9 1580.1 1423.0 1585.2 1421.3C1590.3 1419.6 1595.1 1417.9 1600.0 1416.6C1604.9 1415.2 1607.5 1414.4 1614.8 1413.2C1622.0 1412.0 1633.9 1410.2 1643.5 1409.2C1653.0 1408.2 1662.6 1408.0 1672.2 1407.5C1681.7 1406.9 1691.3 1406.4 1700.9 1405.8C1710.4 1405.1 1721.7 1404.1 1729.6 1403.5C1737.4 1402.8 1740.3 1401.7 1747.9 1401.7C1755.6 1401.7 1764.2 1402.5 1775.5 1403.5C1786.8 1404.4 1799.4 1406.1 1815.6 1407.5C1831.9 1408.8 1849.1 1410.8 1873.0 1411.5C1896.9 1412.2 1935.2 1411.7 1959.1 1411.5C1983.0 1411.3 1997.4 1410.3 2016.5 1410.3C2035.6 1410.3 2056.7 1411.0 2073.9 1411.5C2091.1 1412.0 2105.5 1413.1 2119.8 1413.2C2134.1 1413.3 2143.7 1412.5 2160.0 1412.1C2176.2 1411.6 2197.3 1410.6 2217.4 1410.3C2237.4 1410.1 2270.0 1410.3 2280.5 1410.3" fill="none" stroke="#f00" stroke-width="6.0" stroke-linejoin="round" />
<line x1="1075.0" y1="1185.9" x2="1075.0" y2="1933.6" stroke="#000" stroke-width="2" stroke-dasharray="15.5 5 4.5 5" stroke-dashoffset="11"/>
<line x1="1162.0" y1="1185.9" x2="1162.0" y2="1933.6" stroke="#000" stroke-width="2" stroke-dasharray="15.5 5 4.5 5" stroke-dashoffset="11"/>
<line x1="1336.0" y1="1185.9" x2="1336.0" y2="1933.6" stroke="#000" stroke-width="2" stroke-dasharray="15.5 5 4.5 5" stroke-dashoffset="11"/>
<path d="M1075 1185.9v35.5M1162 1196.1v24.8" stroke="#000" stroke-width="2"/>
<line x1="1748.3" y1="1185.9" x2="1748.3" y2="1933.6" stroke="#000" stroke-width="1.6"/>
<path d="M1075.0 1253.7 L1104.0 1254.5 L1163.0 1256.1 L1157.6 1257.9 L1153.3 1264.4 L1152.2 1271.9 L1153.8 1280.5 L1157.6 1285.9 L1162.0 1288.6 L1171.6 1288.6 L1200.0 1283.2 L1210.7 1281.5 L1240.0 1277.4 L1274.1 1272.7 L1296.1 1271.2 L1315.6 1272.2 L1336.1 1274.4 L1345.4 1276.1" fill="none" stroke="#000" stroke-width="3.6" stroke-linejoin="round"/>
<rect x="266.0" y="1185.9" width="2156.0" height="747.7" fill="none" stroke="#262626" stroke-width="1.9"/>
<path d="M400.8 1933.6v-22M400.8 1185.9v22M737.6 1933.6v-22M737.6 1185.9v22M1074.5 1933.6v-22M1074.5 1185.9v22M1411.4 1933.6v-22M1411.4 1185.9v22M1748.3 1933.6v-22M1748.3 1185.9v22M2085.1 1933.6v-22M2085.1 1185.9v22M2422.0 1933.6v-22M2422.0 1185.9v22M266.0 1253.9h22M2422.0 1253.9h-22M266.0 1389.8h22M2422.0 1389.8h-22M266.0 1525.8h22M2422.0 1525.8h-22M266.0 1661.7h22M2422.0 1661.7h-22M266.0 1797.7h22M2422.0 1797.7h-22M266.0 1933.6h22M2422.0 1933.6h-22" stroke="#262626" stroke-width="1.9" fill="none"/>
<text x="400.8" y="2017.9" class="tl" text-anchor="middle">-1</text>
<text x="737.6" y="2017.9" class="tl" text-anchor="middle">-0.75</text>
<text x="1074.5" y="2017.9" class="tl" text-anchor="middle">-0.5</text>
<text x="1411.4" y="2017.9" class="tl" text-anchor="middle">-0.25</text>
<text x="1748.3" y="2017.9" class="tl" text-anchor="middle">0</text>
<text x="2085.1" y="2017.9" class="tl" text-anchor="middle">0.25</text>
<text x="2422.0" y="2017.9" class="tl" text-anchor="middle">0.5</text>
<text x="247" y="1277.7" class="tl" text-anchor="end">-0.2</text>
<text x="247" y="1413.6" class="tl" text-anchor="end">-0.3</text>
<text x="247" y="1549.6" class="tl" text-anchor="end">-0.4</text>
<text x="247" y="1685.5" class="tl" text-anchor="end">-0.5</text>
<text x="247" y="1821.5" class="tl" text-anchor="end">-0.6</text>
<text x="247" y="1957.4" class="tl" text-anchor="end">-0.7</text>
<text x="1038" y="2103.3" class="al" text-anchor="middle">x/D</text>
<text x="1938" y="2104.5" class="al">(y<tspan class="sub" dy="36.9">base</tspan><tspan dy="-36.9">-y)/D</tspan></text>
<g transform="translate(77.5 1560.4) rotate(-90)">
<text class="br" transform="translate(-108.5 11.2) scale(0.463 0.804)">&#x3008;</text>
<text x="-42" y="0" class="al">C</text>
<text x="8.4" y="37.6" class="al sub2">p</text>
<text class="br" transform="translate(62.2 11.2) scale(0.46 0.804)">&#x3009;</text>
</g>
<rect x="290.1" y="1579.7" width="506.4" height="328.2" fill="#fff" stroke="#262626" stroke-width="1.6"/>
<line x1="298.9" y1="1615.6" x2="393.2" y2="1615.6" stroke="#000" stroke-width="6" stroke-dasharray="16.2 13.3"/>
<text x="400" y="1635.3" class="lg">no groove</text>
<line x1="298.9" y1="1679.7" x2="393.2" y2="1679.7" stroke="#000" stroke-width="6" />
<text x="400" y="1699.4" class="lg">extruded groove</text>
<line x1="298.9" y1="1743.8" x2="393.2" y2="1743.8" stroke="#0f0" stroke-width="6" />
<text x="400" y="1763.5" class="lg">2 DG, z/D=0</text>
<line x1="298.9" y1="1807.9" x2="393.2" y2="1807.9" stroke="#00f" stroke-width="6" />
<text x="400" y="1827.6" class="lg">2 DG, z/D=0.714</text>
<line x1="298.9" y1="1872.0" x2="393.2" y2="1872.0" stroke="#f00" stroke-width="6" />
<text x="400" y="1891.7" class="lg">2 DG, z/D=1.428</text>
<text x="1233.8" y="2240.9" class="cap" text-anchor="middle">(<tspan font-weight="bold">b</tspan>)</text>
<path d="M266.0 2493.3C271.7 2494.1 287.7 2496.6 300.0 2498.3C312.3 2500.0 325.0 2501.8 340.0 2503.3C355.0 2504.8 376.8 2506.3 390.2 2507.4C403.6 2508.6 410.5 2509.2 420.3 2510.2C430.2 2511.3 439.5 2512.2 449.4 2513.7C459.2 2515.1 469.6 2517.0 479.5 2518.8C489.4 2520.6 498.9 2522.7 508.6 2524.4C518.2 2526.2 527.9 2527.8 537.6 2529.4C547.3 2531.0 557.1 2532.2 566.7 2533.9C576.3 2535.6 585.9 2537.4 595.4 2539.3C604.9 2541.2 614.5 2543.4 624.0 2545.4C633.5 2547.4 642.8 2549.2 652.7 2551.2C662.6 2553.2 673.3 2555.2 683.2 2557.3C693.1 2559.4 702.4 2561.6 712.0 2563.8C721.6 2566.0 731.2 2568.1 740.6 2570.5C750.0 2572.9 759.2 2575.6 768.7 2578.2C778.2 2580.8 787.8 2583.2 797.4 2585.9C807.0 2588.7 816.5 2591.5 826.1 2594.5C835.6 2597.6 845.2 2600.9 854.8 2604.0C864.3 2607.1 873.9 2609.8 883.5 2613.2C893.0 2616.5 903.1 2620.4 912.2 2624.1C921.3 2627.8 929.4 2631.6 938.0 2635.6C946.6 2639.5 955.0 2643.3 963.8 2647.6C972.7 2652.0 982.2 2656.9 991.0 2661.8C999.8 2666.7 1008.2 2672.1 1016.7 2677.3C1025.2 2682.6 1034.0 2687.4 1042.0 2693.3C1050.0 2699.2 1057.1 2706.2 1064.4 2712.9C1071.7 2719.6 1078.4 2726.7 1085.6 2733.5C1092.8 2740.3 1099.6 2747.7 1107.4 2753.6C1115.2 2759.5 1127.9 2766.2 1132.7 2769.1C1137.5 2772.0 1132.6 2769.7 1136.1 2770.7C1139.5 2771.7 1148.5 2774.1 1153.3 2775.0C1158.1 2776.0 1160.0 2776.1 1164.8 2776.4C1169.6 2776.8 1177.2 2777.4 1182.0 2777.3C1186.8 2777.2 1188.7 2776.4 1193.5 2775.6C1198.3 2774.7 1205.9 2773.4 1210.7 2772.1C1215.5 2770.9 1217.4 2770.0 1222.2 2767.8C1226.9 2765.7 1234.6 2761.9 1239.4 2759.2C1244.2 2756.6 1246.1 2754.6 1250.9 2752.1C1255.6 2749.5 1263.3 2746.0 1268.1 2744.0C1272.9 2742.0 1275.7 2742.0 1279.6 2740.0C1283.4 2738.0 1287.2 2734.3 1291.0 2732.0C1294.9 2729.7 1298.2 2728.6 1302.5 2726.2C1306.8 2723.8 1312.1 2720.0 1316.9 2717.6C1321.6 2715.2 1326.4 2713.9 1331.2 2711.9C1336.0 2709.9 1340.8 2707.5 1345.6 2705.6C1350.3 2703.7 1355.1 2702.0 1359.9 2700.4C1364.7 2698.8 1370.4 2696.9 1374.2 2696.1C1378.1 2695.3 1377.3 2697.0 1383.0 2695.6C1388.7 2694.2 1399.3 2689.6 1408.4 2687.8C1417.5 2686.1 1427.4 2686.0 1437.4 2685.1C1447.4 2684.2 1458.1 2683.0 1468.3 2682.5C1478.5 2682.0 1488.5 2682.2 1498.4 2682.2C1508.3 2682.2 1517.7 2682.1 1527.5 2682.2C1537.3 2682.4 1547.6 2682.6 1557.4 2683.1C1567.2 2683.6 1576.7 2684.4 1586.3 2685.2C1595.9 2686.0 1605.6 2686.7 1615.2 2687.7C1624.8 2688.7 1634.3 2690.0 1643.9 2691.4C1653.5 2692.9 1663.0 2694.6 1672.6 2696.3C1682.2 2698.0 1691.7 2699.5 1701.3 2701.5C1710.9 2703.5 1722.2 2706.6 1730.0 2708.4C1737.7 2710.1 1744.8 2711.2 1747.8 2711.8" fill="none" stroke="#000" stroke-width="6.0" stroke-linejoin="round" stroke-dasharray="15.5 13.9"/>
<path d="M1752.9 2713.7C1754.7 2713.1 1759.6 2710.5 1764.1 2710.5C1768.7 2710.4 1770.8 2712.6 1780.2 2713.3C1789.5 2713.9 1807.0 2714.1 1820.3 2714.5C1833.7 2714.9 1847.1 2715.4 1860.5 2715.7C1873.9 2716.0 1887.3 2716.1 1900.7 2716.5C1914.1 2716.9 1927.5 2717.7 1940.9 2718.1C1954.3 2718.5 1967.6 2718.7 1981.0 2718.9C1994.4 2719.1 2007.8 2719.3 2021.2 2719.3C2034.6 2719.3 2048.0 2719.0 2061.4 2718.9C2074.8 2718.8 2088.2 2718.8 2101.5 2718.9C2114.9 2719.0 2128.3 2719.2 2141.7 2719.3C2155.1 2719.4 2168.5 2719.3 2181.9 2719.3C2195.3 2719.3 2205.7 2719.3 2222.1 2719.3C2238.5 2719.3 2270.6 2719.3 2280.3 2719.3" fill="none" stroke="#000" stroke-width="6.0" stroke-linejoin="round" stroke-dasharray="15.5 13.9"/>
<path d="M265.4 2497.3C271.7 2498.0 289.6 2499.9 303.0 2501.6C316.5 2503.3 331.7 2505.5 346.1 2507.7C360.4 2509.8 374.8 2512.5 389.1 2514.5C403.5 2516.6 417.8 2518.1 432.2 2519.9C446.5 2521.7 460.9 2523.3 475.2 2525.3C489.6 2527.3 504.1 2530.0 518.2 2532.2C532.4 2534.3 539.7 2534.8 560.0 2538.2C580.3 2541.6 621.2 2549.0 640.0 2552.8C658.8 2556.6 662.5 2558.6 672.5 2560.8C682.5 2563.1 688.8 2563.1 700.0 2566.3C711.2 2569.5 723.8 2574.8 740.0 2580.2C756.2 2585.6 778.3 2592.6 797.4 2598.8C816.5 2605.1 835.6 2610.6 854.8 2617.5C873.9 2624.4 897.8 2634.2 912.2 2640.4C926.5 2646.7 929.6 2648.9 940.9 2654.8C952.2 2660.7 969.6 2669.7 980.0 2675.6C990.4 2681.5 995.4 2684.7 1003.0 2689.9C1010.6 2695.2 1018.3 2700.8 1025.9 2707.1C1033.6 2713.4 1040.9 2720.5 1048.9 2727.8C1056.9 2735.1 1066.6 2743.1 1074.1 2750.7C1081.5 2758.4 1090.0 2769.2 1093.6 2773.7C1097.2 2778.2 1094.3 2774.8 1095.9 2777.9C1097.5 2781.0 1100.7 2787.7 1103.1 2792.2C1105.5 2796.8 1107.6 2801.6 1110.3 2805.1C1112.9 2808.7 1115.5 2811.6 1118.9 2813.7C1122.2 2815.9 1127.0 2816.9 1130.3 2818.1C1133.7 2819.2 1136.6 2820.0 1139.0 2820.9C1141.3 2821.9 1143.3 2823.3 1144.7 2823.8C1146.1 2824.3 1146.8 2826.2 1147.6 2823.8C1148.3 2821.4 1148.5 2809.0 1149.0 2809.4C1149.5 2809.9 1150.1 2820.8 1150.7 2826.7C1151.3 2832.5 1151.8 2842.3 1152.4 2844.5C1153.1 2846.6 1153.1 2840.5 1154.4 2839.6C1155.8 2838.6 1159.1 2837.0 1160.5 2838.7C1161.8 2840.4 1161.9 2849.2 1162.5 2849.6C1163.1 2850.0 1161.9 2842.2 1164.2 2841.0C1166.5 2839.8 1172.8 2841.7 1176.3 2842.4C1179.7 2843.2 1181.0 2844.1 1184.9 2845.3C1188.7 2846.5 1195.6 2847.5 1199.2 2849.6C1202.8 2851.8 1204.0 2855.4 1206.4 2858.2C1208.8 2861.1 1211.2 2864.0 1213.6 2866.8C1215.9 2869.7 1218.6 2875.2 1220.7 2875.4C1222.9 2875.7 1224.8 2871.6 1226.5 2868.3C1228.1 2864.9 1229.3 2861.8 1230.8 2855.4C1232.2 2848.9 1233.6 2840.1 1235.1 2829.5C1236.5 2819.0 1237.7 2805.1 1239.4 2792.2C1241.1 2779.3 1243.2 2764.5 1245.1 2752.1C1247.0 2739.6 1248.9 2728.1 1250.9 2717.6C1252.8 2707.1 1254.4 2697.1 1256.6 2688.9C1258.8 2680.8 1261.4 2674.1 1263.8 2668.8C1266.2 2663.6 1268.8 2659.5 1270.9 2657.4C1273.1 2655.2 1274.8 2655.5 1276.7 2655.9C1278.6 2656.4 1280.0 2656.6 1282.4 2660.2C1284.8 2663.8 1288.2 2670.8 1291.0 2677.4C1293.9 2684.1 1296.8 2692.8 1299.6 2700.4C1302.5 2708.1 1305.4 2716.7 1308.2 2723.4C1311.1 2730.1 1314.0 2736.3 1316.9 2740.6C1319.7 2744.9 1322.4 2747.8 1325.5 2749.2C1328.6 2750.6 1332.2 2750.6 1335.5 2749.2C1338.9 2747.8 1341.5 2744.4 1345.6 2740.6C1349.6 2736.8 1355.1 2731.0 1359.9 2726.2C1364.7 2721.4 1370.9 2715.1 1374.2 2711.9C1377.6 2708.6 1376.4 2709.7 1380.0 2706.8C1383.6 2703.9 1390.5 2698.7 1395.8 2694.2C1401.1 2689.7 1406.3 2684.2 1411.6 2680.0C1416.8 2675.8 1422.0 2672.1 1427.3 2668.9C1432.5 2665.7 1437.8 2663.2 1443.1 2661.0C1448.4 2658.8 1453.6 2656.9 1458.9 2655.5C1464.2 2654.1 1469.4 2653.2 1474.7 2652.4C1480.0 2651.6 1485.2 2651.5 1490.5 2650.8C1495.8 2650.1 1501.0 2649.2 1506.3 2648.4C1511.5 2647.6 1516.8 2646.8 1522.0 2646.0C1527.2 2645.2 1532.5 2644.4 1537.8 2643.7C1543.1 2643.1 1548.3 2642.6 1553.6 2642.1C1558.9 2641.6 1564.1 2640.9 1569.4 2640.5C1574.7 2640.1 1580.1 2639.8 1585.2 2639.7C1590.3 2639.6 1595.5 2639.6 1600.0 2639.7C1604.5 2639.8 1607.4 2640.5 1612.3 2640.4C1617.3 2640.2 1623.8 2639.5 1629.6 2638.9C1635.3 2638.3 1641.0 2637.1 1646.8 2636.6C1652.5 2636.2 1658.2 2635.9 1664.0 2636.1C1669.7 2636.2 1675.0 2636.8 1681.2 2637.5C1687.4 2638.2 1694.6 2639.4 1701.3 2640.4C1708.0 2641.3 1714.2 2642.3 1721.4 2643.2C1728.6 2644.2 1737.2 2646.0 1744.3 2646.1C1751.5 2646.2 1758.2 2643.9 1764.4 2644.1C1770.6 2644.2 1775.7 2646.4 1781.6 2647.0C1787.6 2647.5 1793.5 2647.2 1800.0 2647.5C1806.5 2647.9 1810.3 2648.6 1820.3 2649.0C1830.4 2649.4 1847.1 2649.7 1860.5 2649.8C1873.9 2649.9 1887.3 2649.9 1900.7 2649.8C1914.1 2649.7 1927.5 2649.3 1940.9 2649.4C1954.3 2649.5 1967.6 2649.9 1981.0 2650.2C1994.4 2650.5 2007.8 2651.1 2021.2 2651.4C2034.6 2651.7 2048.0 2651.9 2061.4 2652.2C2074.8 2652.5 2088.2 2652.7 2101.5 2653.0C2114.9 2653.3 2128.3 2653.5 2141.7 2653.8C2155.1 2654.2 2168.5 2654.8 2181.9 2655.0C2195.3 2655.3 2208.7 2655.6 2222.1 2655.4C2235.5 2655.2 2252.5 2654.4 2262.2 2653.8C2271.9 2653.3 2277.3 2652.5 2280.3 2652.2" fill="none" stroke="#000" stroke-width="6.0" stroke-linejoin="round" />
<path d="M266.0 2487.5C271.7 2488.2 277.2 2487.8 300.0 2491.5C322.8 2495.2 373.0 2505.0 403.0 2510.0C433.0 2515.0 462.2 2518.9 480.0 2521.5C497.8 2524.1 483.3 2520.1 510.0 2525.7C536.7 2531.3 613.3 2548.9 640.0 2555.0C666.7 2561.1 660.0 2559.5 670.0 2562.0C680.0 2564.5 690.7 2567.4 700.0 2570.0C709.3 2572.6 707.4 2571.7 726.0 2577.5C744.6 2583.3 786.9 2595.7 811.7 2604.8C836.5 2613.9 858.1 2625.3 874.9 2632.0C891.6 2638.7 896.4 2638.0 912.2 2645.0C927.9 2651.9 955.2 2666.0 969.6 2673.6C983.9 2681.3 988.7 2684.6 998.2 2690.9C1007.8 2697.1 1017.4 2704.0 1026.9 2710.9C1036.5 2717.9 1047.7 2726.5 1055.6 2732.5C1063.5 2738.4 1070.4 2744.0 1074.3 2746.8C1078.1 2749.6 1076.5 2747.0 1078.7 2749.4C1080.9 2751.7 1084.4 2756.6 1087.3 2760.9C1090.2 2765.2 1092.6 2769.5 1095.9 2775.2C1099.3 2780.9 1103.8 2787.9 1107.4 2795.3C1110.9 2802.7 1114.1 2813.9 1117.2 2819.4C1120.3 2824.8 1123.0 2825.8 1125.8 2828.0C1128.7 2830.1 1131.6 2830.5 1134.4 2832.3C1137.3 2834.1 1140.5 2835.5 1143.0 2838.7C1145.6 2842.0 1147.3 2847.7 1149.5 2851.6C1151.6 2855.6 1153.8 2860.1 1156.0 2862.4C1158.1 2864.7 1160.6 2864.2 1162.4 2865.6C1164.2 2867.1 1165.6 2867.6 1166.7 2871.0C1167.8 2874.4 1168.0 2880.3 1168.9 2886.1C1169.8 2891.8 1171.0 2902.0 1172.1 2905.5C1173.2 2908.9 1174.2 2907.6 1175.3 2906.5C1176.4 2905.5 1177.5 2900.6 1178.6 2899.0C1179.6 2897.4 1179.8 2896.1 1181.8 2896.8C1183.8 2897.6 1187.2 2901.3 1190.4 2903.3C1193.6 2905.3 1197.9 2907.4 1201.1 2908.7C1204.4 2909.9 1207.2 2911.0 1209.8 2910.8C1212.3 2910.7 1213.7 2908.7 1216.2 2907.6C1218.7 2906.5 1222.0 2905.1 1224.8 2904.4C1227.7 2903.7 1230.9 2904.9 1233.4 2903.3C1235.9 2901.7 1238.1 2898.6 1239.9 2894.7C1241.7 2890.7 1242.8 2885.4 1244.2 2879.6C1245.6 2873.9 1247.1 2867.1 1248.5 2860.3C1249.9 2853.4 1251.4 2845.9 1252.8 2838.7C1254.2 2831.6 1255.5 2824.9 1257.1 2817.2C1258.7 2809.5 1260.5 2798.0 1262.3 2792.4C1264.2 2786.9 1266.2 2784.8 1268.1 2783.8C1270.0 2782.9 1271.9 2783.8 1273.8 2786.7C1275.7 2789.6 1278.1 2796.3 1279.6 2801.0C1281.0 2805.8 1281.0 2810.1 1282.4 2815.4C1283.9 2820.6 1286.3 2828.5 1288.2 2832.6C1290.1 2836.7 1292.0 2838.3 1293.9 2839.8C1295.8 2841.2 1298.2 2839.1 1299.6 2841.2C1301.1 2843.4 1301.1 2849.3 1302.5 2852.7C1303.9 2856.0 1305.9 2858.4 1308.2 2861.3C1310.6 2864.2 1314.0 2867.0 1316.9 2869.9C1319.7 2872.8 1322.6 2874.7 1325.5 2878.5C1328.3 2882.3 1331.7 2890.0 1334.1 2892.9C1336.5 2895.7 1337.4 2896.2 1339.8 2895.7C1342.2 2895.2 1345.1 2892.9 1348.4 2890.0C1351.8 2887.1 1356.6 2882.3 1359.9 2878.5C1363.2 2874.7 1365.2 2871.8 1368.5 2867.0C1371.9 2862.3 1376.2 2856.5 1380.0 2849.8C1383.8 2843.1 1387.6 2834.0 1391.5 2826.9C1395.3 2819.7 1399.1 2814.6 1402.9 2806.8C1406.8 2799.0 1410.1 2790.1 1414.7 2780.0C1419.3 2769.9 1425.8 2756.9 1430.5 2746.2C1435.2 2735.6 1438.4 2725.7 1443.1 2716.2C1447.9 2706.8 1453.6 2697.0 1458.9 2689.4C1464.2 2681.8 1469.5 2677.7 1474.7 2670.5C1479.9 2663.2 1486.0 2652.1 1490.0 2645.9C1494.0 2639.6 1495.7 2636.8 1498.6 2633.0C1501.5 2629.1 1504.3 2625.9 1507.2 2622.6C1510.1 2619.3 1513.0 2616.3 1515.8 2613.2C1518.7 2610.0 1521.6 2606.7 1524.4 2603.7C1527.3 2600.7 1530.2 2598.0 1533.0 2595.1C1535.9 2592.2 1538.8 2589.2 1541.6 2586.5C1544.5 2583.8 1547.4 2581.3 1550.3 2578.7C1553.1 2576.2 1556.0 2573.6 1558.9 2571.0C1561.7 2568.4 1564.6 2565.7 1567.5 2563.2C1570.3 2560.8 1573.2 2558.7 1576.1 2556.4C1579.0 2554.1 1581.8 2551.5 1584.7 2549.5C1587.6 2547.4 1590.4 2545.4 1593.3 2543.9C1596.2 2542.4 1600.0 2541.4 1601.9 2540.4C1603.8 2539.4 1601.4 2538.9 1604.9 2537.9C1608.4 2536.9 1613.8 2535.9 1622.8 2534.3C1631.8 2532.7 1646.7 2529.8 1658.7 2528.2C1670.6 2526.6 1682.6 2525.2 1694.5 2524.6C1706.5 2524.0 1724.0 2524.5 1730.4 2524.6C1736.8 2524.7 1729.9 2525.0 1732.9 2525.4C1735.8 2525.7 1743.8 2527.0 1748.4 2526.8C1752.9 2526.6 1754.8 2524.6 1760.1 2524.3C1765.4 2524.1 1770.1 2524.7 1780.2 2525.1C1790.2 2525.6 1807.0 2526.5 1820.3 2527.1C1833.7 2527.8 1847.1 2528.5 1860.5 2529.2C1873.9 2529.8 1887.3 2530.6 1900.7 2531.2C1914.1 2531.7 1927.5 2532.0 1940.9 2532.4C1954.3 2532.7 1967.6 2533.2 1981.0 2533.2C1994.4 2533.2 2007.8 2532.8 2021.2 2532.4C2034.6 2531.9 2048.0 2531.0 2061.4 2530.4C2074.8 2529.7 2088.2 2528.8 2101.5 2528.4C2114.9 2527.9 2128.3 2527.7 2141.7 2527.5C2155.1 2527.4 2168.5 2527.5 2181.9 2527.5C2195.3 2527.6 2205.7 2527.9 2222.1 2527.9C2238.5 2528.0 2270.6 2527.9 2280.3 2527.9" fill="none" stroke="#f00" stroke-width="6.0" stroke-linejoin="round" />
<path d="M266.0 2488.5C271.7 2489.2 277.2 2488.8 300.0 2492.5C322.8 2496.2 373.0 2506.0 403.0 2511.0C433.0 2516.0 462.2 2519.8 480.0 2522.5C497.8 2525.2 483.3 2521.3 510.0 2527.0C536.7 2532.7 613.3 2550.4 640.0 2556.5C666.7 2562.6 660.0 2560.9 670.0 2563.5C680.0 2566.1 690.7 2569.4 700.0 2572.0C709.3 2574.6 707.4 2573.3 726.0 2579.0C744.6 2584.7 786.9 2597.1 811.7 2606.2C836.5 2615.3 858.1 2626.5 874.9 2633.5C891.6 2640.4 901.2 2643.0 912.2 2647.8C923.2 2652.6 931.3 2657.4 940.9 2662.2C950.4 2667.0 960.0 2671.3 969.6 2676.5C979.1 2681.8 988.7 2687.3 998.2 2693.7C1007.8 2700.2 1017.4 2708.3 1026.9 2715.3C1036.5 2722.2 1047.7 2729.4 1055.6 2735.3C1063.5 2741.3 1070.4 2748.3 1074.3 2751.1C1078.1 2753.9 1075.6 2749.2 1078.7 2752.3C1081.8 2755.3 1088.3 2762.8 1093.0 2769.5C1097.8 2776.2 1103.4 2784.8 1107.4 2792.4C1111.4 2800.0 1113.8 2809.9 1117.2 2815.1C1120.6 2820.3 1124.7 2821.5 1128.0 2823.7C1131.2 2825.8 1133.4 2825.1 1136.6 2828.0C1139.8 2830.8 1144.1 2836.9 1147.3 2840.9C1150.6 2844.8 1153.1 2848.1 1156.0 2851.6C1158.8 2855.2 1162.4 2858.5 1164.6 2862.4C1166.7 2866.4 1167.3 2870.3 1168.9 2875.3C1170.5 2880.3 1172.5 2889.7 1174.2 2892.5C1176.0 2895.4 1178.0 2893.1 1179.6 2892.5C1181.2 2892.0 1182.1 2889.3 1183.9 2889.3C1185.7 2889.3 1188.2 2891.3 1190.4 2892.5C1192.5 2893.8 1194.3 2895.2 1196.8 2896.8C1199.4 2898.5 1202.9 2901.5 1205.5 2902.2C1208.0 2902.9 1209.4 2901.7 1211.9 2901.1C1214.4 2900.6 1217.6 2899.5 1220.5 2899.0C1223.4 2898.5 1226.6 2899.4 1229.1 2897.9C1231.6 2896.5 1233.4 2894.9 1235.6 2890.4C1237.7 2885.9 1239.9 2878.2 1242.0 2871.0C1244.2 2863.8 1246.3 2855.6 1248.5 2847.3C1250.6 2839.1 1253.1 2828.8 1254.9 2821.5C1256.8 2814.3 1257.3 2808.8 1259.5 2803.9C1261.7 2799.1 1265.7 2793.9 1268.1 2792.4C1270.5 2791.0 1271.9 2792.4 1273.8 2795.3C1275.7 2798.2 1277.6 2805.3 1279.6 2809.6C1281.5 2813.9 1282.9 2818.0 1285.3 2821.1C1287.7 2824.2 1291.5 2826.4 1293.9 2828.3C1296.3 2830.2 1297.7 2830.0 1299.6 2832.6C1301.6 2835.2 1303.0 2840.3 1305.4 2844.1C1307.8 2847.9 1311.1 2852.2 1314.0 2855.6C1316.9 2858.9 1319.7 2861.3 1322.6 2864.2C1325.5 2867.0 1328.8 2869.9 1331.2 2872.8C1333.6 2875.6 1334.6 2880.4 1336.9 2881.4C1339.3 2882.3 1342.2 2880.4 1345.6 2878.5C1348.9 2876.6 1353.2 2872.8 1357.0 2869.9C1360.9 2867.0 1364.7 2864.6 1368.5 2861.3C1372.3 2857.9 1376.2 2854.1 1380.0 2849.8C1383.8 2845.5 1387.6 2840.3 1391.5 2835.5C1395.3 2830.7 1399.1 2825.9 1402.9 2821.1C1406.8 2816.3 1410.9 2813.6 1414.4 2806.8C1418.0 2799.9 1419.9 2789.3 1424.2 2780.0C1428.4 2770.7 1435.0 2760.3 1440.0 2751.0C1445.0 2741.6 1449.4 2732.8 1454.2 2724.1C1458.9 2715.5 1463.6 2707.0 1468.4 2698.9C1473.1 2690.7 1478.5 2681.7 1482.6 2675.2C1486.6 2668.7 1489.9 2664.0 1492.6 2660.0C1495.3 2656.0 1496.2 2654.4 1498.6 2651.0C1501.0 2647.7 1504.3 2643.6 1507.2 2639.9C1510.1 2636.1 1513.0 2632.1 1515.8 2628.7C1518.7 2625.2 1521.6 2622.4 1524.4 2619.2C1527.3 2616.0 1530.2 2612.9 1533.0 2609.7C1535.9 2606.6 1538.8 2603.3 1541.6 2600.3C1544.5 2597.2 1547.4 2594.5 1550.3 2591.6C1553.1 2588.8 1556.0 2585.8 1558.9 2583.0C1561.7 2580.3 1564.6 2577.9 1567.5 2575.3C1570.3 2572.7 1573.2 2570.0 1576.1 2567.5C1579.0 2565.1 1581.8 2562.8 1584.7 2560.7C1587.6 2558.5 1590.4 2556.5 1593.3 2554.6C1596.2 2552.8 1599.1 2550.8 1601.9 2549.5C1604.7 2548.2 1606.5 2548.0 1610.0 2546.9C1613.5 2545.7 1614.7 2544.2 1622.8 2542.5C1630.9 2540.9 1646.7 2538.2 1658.7 2536.8C1670.6 2535.4 1682.6 2534.7 1694.5 2534.3C1706.5 2533.9 1724.0 2534.2 1730.4 2534.3C1736.8 2534.4 1729.9 2534.7 1732.9 2534.8C1735.8 2534.9 1740.5 2535.1 1748.4 2534.8C1756.2 2534.5 1768.2 2533.1 1780.2 2533.2C1792.2 2533.2 1807.0 2534.5 1820.3 2535.2C1833.7 2535.9 1847.1 2536.7 1860.5 2537.2C1873.9 2537.7 1887.3 2538.3 1900.7 2538.4C1914.1 2538.5 1927.5 2538.2 1940.9 2538.0C1954.3 2537.8 1967.6 2537.3 1981.0 2537.2C1994.4 2537.1 2007.8 2537.5 2021.2 2537.2C2034.6 2536.9 2048.0 2536.1 2061.4 2535.6C2074.8 2535.1 2088.2 2534.6 2101.5 2534.4C2114.9 2534.1 2128.3 2534.0 2141.7 2534.0C2155.1 2533.9 2168.5 2533.9 2181.9 2534.0C2195.3 2534.0 2205.7 2534.2 2222.1 2534.4C2238.5 2534.5 2270.6 2534.7 2280.3 2534.8" fill="none" stroke="#00f" stroke-width="6.0" stroke-linejoin="round" />
<path d="M266.0 2489.5C271.7 2490.2 289.3 2492.4 300.0 2494.0C310.7 2495.6 312.8 2495.9 330.0 2499.0C347.2 2502.1 378.0 2508.4 403.0 2512.6C428.0 2516.8 462.2 2521.1 480.0 2524.0C497.8 2526.9 500.0 2528.3 510.0 2530.1C520.0 2531.9 518.3 2529.7 540.0 2534.7C561.7 2539.7 618.3 2554.6 640.0 2560.0C661.7 2565.4 660.0 2564.4 670.0 2567.0C680.0 2569.6 690.7 2573.2 700.0 2575.7C709.3 2578.2 707.4 2576.2 726.0 2582.0C744.6 2587.8 792.7 2604.1 811.7 2610.5C830.8 2616.9 829.9 2616.0 840.4 2620.6C851.0 2625.1 862.9 2632.3 874.9 2637.8C886.8 2643.3 901.2 2648.8 912.2 2653.6C923.2 2658.3 931.3 2661.9 940.9 2666.5C950.4 2671.0 960.0 2675.1 969.6 2680.8C979.1 2686.6 988.7 2694.5 998.2 2700.9C1007.8 2707.4 1017.4 2712.1 1026.9 2719.6C1036.5 2727.0 1047.7 2737.7 1055.6 2745.4C1063.5 2753.0 1070.4 2761.9 1074.3 2765.5C1078.1 2769.0 1075.6 2763.1 1078.7 2766.6C1081.8 2770.1 1085.9 2779.7 1093.0 2786.7C1100.2 2793.7 1115.0 2803.5 1121.5 2808.6C1128.1 2813.7 1128.7 2814.0 1132.3 2817.2C1135.9 2820.4 1139.5 2824.4 1143.0 2828.0C1146.6 2831.6 1150.6 2834.8 1153.8 2838.7C1157.0 2842.7 1159.9 2847.0 1162.4 2851.6C1164.9 2856.3 1166.7 2861.7 1168.9 2866.7C1171.0 2871.7 1172.8 2876.8 1175.3 2881.8C1177.8 2886.8 1181.1 2892.2 1183.9 2896.8C1186.8 2901.5 1189.7 2906.5 1192.5 2909.8C1195.4 2913.0 1198.3 2914.8 1201.1 2916.2C1204.0 2917.6 1206.9 2916.9 1209.8 2918.4C1212.6 2919.8 1215.9 2922.3 1218.4 2924.8C1220.9 2927.3 1222.3 2931.1 1224.8 2933.4C1227.3 2935.8 1229.1 2937.9 1233.4 2938.8C1237.7 2939.7 1245.6 2939.0 1250.6 2938.8C1255.7 2938.6 1259.3 2937.9 1263.6 2937.7C1267.9 2937.6 1272.9 2938.8 1276.5 2937.7C1280.1 2936.7 1281.9 2933.2 1285.1 2931.3C1288.3 2929.3 1292.6 2927.3 1295.8 2925.9C1299.1 2924.5 1301.6 2924.6 1304.4 2922.7C1307.3 2920.7 1310.2 2916.9 1313.1 2914.1C1315.9 2911.2 1318.8 2908.3 1321.7 2905.5C1324.5 2902.6 1327.8 2899.4 1330.3 2896.8C1332.8 2894.3 1333.9 2892.9 1336.7 2890.4C1339.6 2887.9 1343.9 2884.6 1347.5 2881.8C1351.1 2878.9 1354.3 2876.4 1358.2 2873.2C1362.2 2869.9 1367.2 2866.4 1371.2 2862.4C1375.1 2858.5 1378.3 2854.2 1381.9 2849.5C1385.5 2844.8 1389.7 2838.0 1392.7 2834.4C1395.7 2830.8 1397.3 2830.7 1400.0 2828.0C1402.7 2825.3 1405.3 2822.3 1408.7 2818.3C1412.0 2814.2 1416.3 2810.3 1420.2 2803.9C1424.1 2797.5 1427.7 2788.3 1432.1 2780.0C1436.4 2771.7 1441.3 2762.6 1446.3 2754.1C1451.3 2745.6 1456.8 2737.0 1462.1 2728.9C1467.3 2720.7 1472.6 2712.8 1477.8 2705.2C1483.1 2697.6 1488.7 2690.6 1493.6 2683.1C1498.5 2675.6 1503.5 2665.6 1507.2 2660.0C1510.9 2654.4 1513.0 2652.8 1515.8 2649.3C1518.7 2645.8 1521.6 2642.3 1524.4 2639.0C1527.3 2635.7 1530.2 2632.8 1533.0 2629.5C1535.9 2626.2 1538.8 2622.4 1541.6 2619.2C1544.5 2616.0 1547.4 2613.5 1550.3 2610.6C1553.1 2607.7 1556.0 2604.7 1558.9 2602.0C1561.7 2599.3 1564.6 2596.7 1567.5 2594.2C1570.3 2591.8 1573.2 2589.5 1576.1 2587.3C1579.0 2585.2 1581.8 2583.3 1584.7 2581.3C1587.6 2579.3 1590.4 2577.0 1593.3 2575.3C1596.2 2573.6 1599.1 2572.1 1601.9 2571.0C1604.7 2569.8 1606.5 2569.9 1610.0 2568.4C1613.5 2566.9 1614.7 2564.6 1622.8 2561.9C1630.9 2559.2 1646.7 2554.7 1658.7 2552.2C1670.6 2549.7 1682.6 2547.7 1694.5 2546.8C1706.5 2545.9 1724.0 2546.7 1730.4 2546.8C1736.8 2547.0 1730.0 2547.3 1732.9 2547.7C1735.7 2548.1 1745.3 2548.9 1747.8 2549.2" fill="none" stroke="#0f0" stroke-width="6.0" stroke-linejoin="round" />
<path d="M1748.0 2546.4C1750.0 2546.2 1754.7 2545.2 1760.1 2545.2C1765.4 2545.2 1770.1 2545.6 1780.2 2546.4C1790.2 2547.2 1807.0 2548.9 1820.3 2550.0C1833.7 2551.2 1847.1 2552.4 1860.5 2553.3C1873.9 2554.1 1887.3 2554.9 1900.7 2555.3C1914.1 2555.6 1927.5 2555.2 1940.9 2555.3C1954.3 2555.3 1967.6 2555.5 1981.0 2555.7C1994.4 2555.8 2007.8 2556.0 2021.2 2556.1C2034.6 2556.1 2048.0 2556.1 2061.4 2556.1C2074.8 2556.1 2088.2 2556.0 2101.5 2556.1C2114.9 2556.1 2128.3 2556.3 2141.7 2556.5C2155.1 2556.7 2168.5 2557.3 2181.9 2557.3C2195.3 2557.3 2205.7 2556.6 2222.1 2556.5C2238.5 2556.3 2270.6 2556.5 2280.3 2556.5" fill="none" stroke="#0f0" stroke-width="6.0" stroke-linejoin="round" />
<line x1="1075.0" y1="2348.8" x2="1075.0" y2="3096.5" stroke="#000" stroke-width="2" stroke-dasharray="15.5 5 4.5 5" stroke-dashoffset="11"/>
<line x1="1162.0" y1="2348.8" x2="1162.0" y2="3096.5" stroke="#000" stroke-width="2" stroke-dasharray="15.5 5 4.5 5" stroke-dashoffset="11"/>
<line x1="1336.0" y1="2348.8" x2="1336.0" y2="3096.5" stroke="#000" stroke-width="2" stroke-dasharray="15.5 5 4.5 5" stroke-dashoffset="11"/>
<path d="M1075 2348.8v35.5M1162 2359.0v24.8" stroke="#000" stroke-width="2"/>
<line x1="1748.3" y1="2348.8" x2="1748.3" y2="3096.5" stroke="#000" stroke-width="1.6"/>
<path d="M1075.0 2416.6 L1104.0 2417.4 L1163.0 2419.0 L1157.6 2420.8 L1153.3 2427.3 L1152.2 2434.8 L1153.8 2443.4 L1157.6 2448.8 L1162.0 2451.5 L1171.6 2451.5 L1200.0 2446.1 L1210.7 2444.4 L1240.0 2440.3 L1274.1 2435.6 L1296.1 2434.1 L1315.6 2435.1 L1336.1 2437.3 L1345.4 2439.0" fill="none" stroke="#000" stroke-width="3.6" stroke-linejoin="round"/>
<rect x="266.0" y="2348.8" width="2156.0" height="747.7" fill="none" stroke="#262626" stroke-width="1.9"/>
<path d="M400.8 3096.5v-22M400.8 2348.8v22M737.6 3096.5v-22M737.6 2348.8v22M1074.5 3096.5v-22M1074.5 2348.8v22M1411.4 3096.5v-22M1411.4 2348.8v22M1748.3 3096.5v-22M1748.3 2348.8v22M2085.1 3096.5v-22M2085.1 2348.8v22M2422.0 3096.5v-22M2422.0 2348.8v22M266.0 2416.8h22M2422.0 2416.8h-22M266.0 2552.7h22M2422.0 2552.7h-22M266.0 2688.7h22M2422.0 2688.7h-22M266.0 2824.6h22M2422.0 2824.6h-22M266.0 2960.6h22M2422.0 2960.6h-22M266.0 3096.5h22M2422.0 3096.5h-22" stroke="#262626" stroke-width="1.9" fill="none"/>
<text x="400.8" y="3180.8" class="tl" text-anchor="middle">-1</text>
<text x="737.6" y="3180.8" class="tl" text-anchor="middle">-0.75</text>
<text x="1074.5" y="3180.8" class="tl" text-anchor="middle">-0.5</text>
<text x="1411.4" y="3180.8" class="tl" text-anchor="middle">-0.25</text>
<text x="1748.3" y="3180.8" class="tl" text-anchor="middle">0</text>
<text x="2085.1" y="3180.8" class="tl" text-anchor="middle">0.25</text>
<text x="2422.0" y="3180.8" class="tl" text-anchor="middle">0.5</text>
<text x="247" y="2440.6" class="tl" text-anchor="end">-0.2</text>
<text x="247" y="2576.5" class="tl" text-anchor="end">-0.3</text>
<text x="247" y="2712.5" class="tl" text-anchor="end">-0.4</text>
<text x="247" y="2848.4" class="tl" text-anchor="end">-0.5</text>
<text x="247" y="2984.4" class="tl" text-anchor="end">-0.6</text>
<text x="247" y="3120.3" class="tl" text-anchor="end">-0.7</text>
<text x="1038" y="3266.2" class="al" text-anchor="middle">x/D</text>
<text x="1938" y="3267.4" class="al">(y<tspan class="sub" dy="36.9">base</tspan><tspan dy="-36.9">-y)/D</tspan></text>
<g transform="translate(77.5 2723.3) rotate(-90)">
<text class="br" transform="translate(-108.5 11.2) scale(0.463 0.804)">&#x3008;</text>
<text x="-42" y="0" class="al">C</text>
<text x="8.4" y="37.6" class="al sub2">p</text>
<text class="br" transform="translate(62.2 11.2) scale(0.46 0.804)">&#x3009;</text>
</g>
<rect x="290.1" y="2742.6" width="506.4" height="328.2" fill="#fff" stroke="#262626" stroke-width="1.6"/>
<line x1="298.9" y1="2778.5" x2="393.2" y2="2778.5" stroke="#000" stroke-width="6" stroke-dasharray="16.2 13.3"/>
<text x="400" y="2798.2" class="lg">no groove</text>
<line x1="298.9" y1="2842.6" x2="393.2" y2="2842.6" stroke="#000" stroke-width="6" />
<text x="400" y="2862.3" class="lg">extruded groove</text>
<line x1="298.9" y1="2906.7" x2="393.2" y2="2906.7" stroke="#f00" stroke-width="6" />
<text x="400" y="2926.4" class="lg">3 DG, z/D=0</text>
<line x1="298.9" y1="2970.8" x2="393.2" y2="2970.8" stroke="#00f" stroke-width="6" />
<text x="400" y="2990.5" class="lg">3 DG, z/D=0.476</text>
<line x1="298.9" y1="3034.9" x2="393.2" y2="3034.9" stroke="#0f0" stroke-width="6" />
<text x="400" y="3054.6" class="lg">3 DG, z/D=0.952</text>
<text x="1233.8" y="3403.8" class="cap" text-anchor="middle">(<tspan font-weight="bold">c</tspan>)</text>
<path d="M266.0 3656.2C271.7 3657.0 287.7 3659.5 300.0 3661.2C312.3 3662.9 325.0 3664.7 340.0 3666.2C355.0 3667.7 376.8 3669.2 390.2 3670.3C403.6 3671.5 410.5 3672.1 420.3 3673.1C430.2 3674.2 439.5 3675.1 449.4 3676.6C459.2 3678.0 469.6 3679.9 479.5 3681.7C489.4 3683.5 498.9 3685.6 508.6 3687.3C518.2 3689.1 527.9 3690.7 537.6 3692.3C547.3 3693.9 557.1 3695.1 566.7 3696.8C576.3 3698.5 585.9 3700.3 595.4 3702.2C604.9 3704.1 614.5 3706.3 624.0 3708.3C633.5 3710.3 642.8 3712.1 652.7 3714.1C662.6 3716.1 673.3 3718.1 683.2 3720.2C693.1 3722.3 702.4 3724.5 712.0 3726.7C721.6 3728.9 731.2 3731.0 740.6 3733.4C750.0 3735.8 759.2 3738.5 768.7 3741.1C778.2 3743.7 787.8 3746.1 797.4 3748.8C807.0 3751.6 816.5 3754.4 826.1 3757.4C835.6 3760.5 845.2 3763.8 854.8 3766.9C864.3 3770.0 873.9 3772.7 883.5 3776.1C893.0 3779.4 903.1 3783.3 912.2 3787.0C921.3 3790.7 929.4 3794.5 938.0 3798.5C946.6 3802.4 955.0 3806.2 963.8 3810.5C972.7 3814.9 982.2 3819.8 991.0 3824.7C999.8 3829.6 1008.2 3835.0 1016.7 3840.2C1025.2 3845.5 1034.0 3850.3 1042.0 3856.2C1050.0 3862.1 1057.1 3869.1 1064.4 3875.8C1071.7 3882.5 1078.4 3889.6 1085.6 3896.4C1092.8 3903.2 1099.6 3910.6 1107.4 3916.5C1115.2 3922.4 1127.9 3929.1 1132.7 3932.0C1137.5 3934.9 1132.6 3932.6 1136.1 3933.6C1139.5 3934.6 1148.5 3937.0 1153.3 3937.9C1158.1 3938.9 1160.0 3939.0 1164.8 3939.3C1169.6 3939.7 1177.2 3940.3 1182.0 3940.2C1186.8 3940.1 1188.7 3939.3 1193.5 3938.5C1198.3 3937.6 1205.9 3936.3 1210.7 3935.0C1215.5 3933.8 1217.4 3932.9 1222.2 3930.7C1226.9 3928.6 1234.6 3924.8 1239.4 3922.1C1244.2 3919.5 1246.1 3917.5 1250.9 3915.0C1255.6 3912.4 1263.3 3908.9 1268.1 3906.9C1272.9 3904.9 1275.7 3904.9 1279.6 3902.9C1283.4 3900.9 1287.2 3897.2 1291.0 3894.9C1294.9 3892.6 1298.2 3891.5 1302.5 3889.1C1306.8 3886.7 1312.1 3882.9 1316.9 3880.5C1321.6 3878.1 1326.4 3876.8 1331.2 3874.8C1336.0 3872.8 1340.8 3870.4 1345.6 3868.5C1350.3 3866.6 1355.1 3864.9 1359.9 3863.3C1364.7 3861.7 1370.4 3859.8 1374.2 3859.0C1378.1 3858.2 1377.3 3859.9 1383.0 3858.5C1388.7 3857.1 1399.3 3852.5 1408.4 3850.7C1417.5 3849.0 1427.4 3848.9 1437.4 3848.0C1447.4 3847.1 1458.1 3845.9 1468.3 3845.4C1478.5 3844.9 1488.5 3845.2 1498.4 3845.1C1508.3 3845.1 1517.7 3845.0 1527.5 3845.1C1537.3 3845.3 1547.6 3845.5 1557.4 3846.0C1567.2 3846.5 1576.7 3847.3 1586.3 3848.1C1595.9 3848.9 1605.6 3849.6 1615.2 3850.6C1624.8 3851.6 1634.3 3852.9 1643.9 3854.3C1653.5 3855.8 1663.0 3857.5 1672.6 3859.2C1682.2 3860.9 1691.7 3862.4 1701.3 3864.4C1710.9 3866.4 1722.2 3869.5 1730.0 3871.3C1737.7 3873.0 1744.8 3874.1 1747.8 3874.7" fill="none" stroke="#000" stroke-width="6.0" stroke-linejoin="round" stroke-dasharray="15.5 13.9"/>
<path d="M1752.9 3876.6C1754.7 3876.0 1759.6 3873.4 1764.1 3873.4C1768.7 3873.3 1770.8 3875.5 1780.2 3876.2C1789.5 3876.8 1807.0 3877.0 1820.3 3877.4C1833.7 3877.8 1847.1 3878.3 1860.5 3878.6C1873.9 3878.9 1887.3 3879.0 1900.7 3879.4C1914.1 3879.8 1927.5 3880.6 1940.9 3881.0C1954.3 3881.4 1967.6 3881.6 1981.0 3881.8C1994.4 3882.0 2007.8 3882.2 2021.2 3882.2C2034.6 3882.2 2048.0 3881.9 2061.4 3881.8C2074.8 3881.7 2088.2 3881.7 2101.5 3881.8C2114.9 3881.9 2128.3 3882.1 2141.7 3882.2C2155.1 3882.3 2168.5 3882.2 2181.9 3882.2C2195.3 3882.2 2205.7 3882.2 2222.1 3882.2C2238.5 3882.2 2270.6 3882.2 2280.3 3882.2" fill="none" stroke="#000" stroke-width="6.0" stroke-linejoin="round" stroke-dasharray="15.5 13.9"/>
<path d="M265.4 3660.2C271.7 3660.9 289.6 3662.8 303.0 3664.5C316.5 3666.2 331.7 3668.4 346.1 3670.6C360.4 3672.7 374.8 3675.4 389.1 3677.4C403.5 3679.5 417.8 3681.0 432.2 3682.8C446.5 3684.6 460.9 3686.2 475.2 3688.2C489.6 3690.2 504.1 3692.9 518.2 3695.1C532.4 3697.2 539.7 3697.7 560.0 3701.1C580.3 3704.5 621.2 3711.9 640.0 3715.7C658.8 3719.5 662.5 3721.5 672.5 3723.7C682.5 3726.0 688.8 3726.0 700.0 3729.2C711.2 3732.4 723.8 3737.7 740.0 3743.1C756.2 3748.5 778.3 3755.5 797.4 3761.7C816.5 3768.0 835.6 3773.5 854.8 3780.4C873.9 3787.3 897.8 3797.1 912.2 3803.3C926.5 3809.6 929.6 3811.8 940.9 3817.7C952.2 3823.6 969.6 3832.6 980.0 3838.5C990.4 3844.4 995.4 3847.6 1003.0 3852.8C1010.6 3858.1 1018.3 3863.7 1025.9 3870.0C1033.6 3876.3 1040.9 3883.4 1048.9 3890.7C1056.9 3898.0 1066.6 3906.0 1074.1 3913.6C1081.5 3921.3 1090.0 3932.1 1093.6 3936.6C1097.2 3941.1 1094.3 3937.7 1095.9 3940.8C1097.5 3943.9 1100.7 3950.6 1103.1 3955.1C1105.5 3959.7 1107.6 3964.5 1110.3 3968.0C1112.9 3971.6 1115.5 3974.5 1118.9 3976.6C1122.2 3978.8 1127.0 3979.8 1130.3 3981.0C1133.7 3982.1 1136.6 3982.9 1139.0 3983.8C1141.3 3984.8 1143.3 3986.2 1144.7 3986.7C1146.1 3987.2 1146.8 3989.1 1147.6 3986.7C1148.3 3984.3 1148.5 3971.9 1149.0 3972.3C1149.5 3972.8 1150.1 3983.7 1150.7 3989.6C1151.3 3995.4 1151.8 4005.2 1152.4 4007.4C1153.1 4009.5 1153.1 4003.4 1154.4 4002.5C1155.8 4001.5 1159.1 3999.9 1160.5 4001.6C1161.8 4003.3 1161.9 4012.1 1162.5 4012.5C1163.1 4012.9 1161.9 4005.1 1164.2 4003.9C1166.5 4002.7 1172.8 4004.6 1176.3 4005.3C1179.7 4006.1 1181.0 4007.0 1184.9 4008.2C1188.7 4009.4 1195.6 4010.4 1199.2 4012.5C1202.8 4014.7 1204.0 4018.3 1206.4 4021.1C1208.8 4024.0 1211.2 4026.9 1213.6 4029.7C1215.9 4032.6 1218.6 4038.1 1220.7 4038.3C1222.9 4038.6 1224.8 4034.5 1226.5 4031.2C1228.1 4027.8 1229.3 4024.7 1230.8 4018.3C1232.2 4011.8 1233.6 4003.0 1235.1 3992.4C1236.5 3981.9 1237.7 3968.0 1239.4 3955.1C1241.1 3942.2 1243.2 3927.4 1245.1 3915.0C1247.0 3902.5 1248.9 3891.0 1250.9 3880.5C1252.8 3870.0 1254.4 3860.0 1256.6 3851.8C1258.8 3843.7 1261.4 3837.0 1263.8 3831.7C1266.2 3826.5 1268.8 3822.4 1270.9 3820.3C1273.1 3818.1 1274.8 3818.4 1276.7 3818.8C1278.6 3819.3 1280.0 3819.5 1282.4 3823.1C1284.8 3826.7 1288.2 3833.7 1291.0 3840.3C1293.9 3847.0 1296.8 3855.7 1299.6 3863.3C1302.5 3871.0 1305.4 3879.6 1308.2 3886.3C1311.1 3893.0 1314.0 3899.2 1316.9 3903.5C1319.7 3907.8 1322.4 3910.7 1325.5 3912.1C1328.6 3913.5 1332.2 3913.5 1335.5 3912.1C1338.9 3910.7 1341.5 3907.3 1345.6 3903.5C1349.6 3899.7 1355.1 3893.9 1359.9 3889.1C1364.7 3884.3 1370.9 3878.0 1374.2 3874.8C1377.6 3871.5 1376.4 3872.6 1380.0 3869.7C1383.6 3866.8 1390.5 3861.6 1395.8 3857.1C1401.1 3852.6 1406.3 3847.1 1411.6 3842.9C1416.8 3838.7 1422.0 3835.0 1427.3 3831.8C1432.5 3828.6 1437.8 3826.1 1443.1 3823.9C1448.4 3821.7 1453.6 3819.8 1458.9 3818.4C1464.2 3817.0 1469.4 3816.1 1474.7 3815.3C1480.0 3814.5 1485.2 3814.4 1490.5 3813.7C1495.8 3813.0 1501.0 3812.1 1506.3 3811.3C1511.5 3810.5 1516.8 3809.7 1522.0 3808.9C1527.2 3808.1 1532.5 3807.3 1537.8 3806.6C1543.1 3806.0 1548.3 3805.5 1553.6 3805.0C1558.9 3804.5 1564.1 3803.8 1569.4 3803.4C1574.7 3803.0 1580.1 3802.7 1585.2 3802.6C1590.3 3802.5 1595.5 3802.5 1600.0 3802.6C1604.5 3802.7 1607.4 3803.4 1612.3 3803.3C1617.3 3803.1 1623.8 3802.4 1629.6 3801.8C1635.3 3801.2 1641.0 3800.0 1646.8 3799.5C1652.5 3799.1 1658.2 3798.8 1664.0 3799.0C1669.7 3799.1 1675.0 3799.7 1681.2 3800.4C1687.4 3801.1 1694.6 3802.3 1701.3 3803.3C1708.0 3804.2 1714.2 3805.2 1721.4 3806.1C1728.6 3807.1 1737.2 3808.9 1744.3 3809.0C1751.5 3809.1 1758.2 3806.8 1764.4 3807.0C1770.6 3807.1 1775.7 3809.3 1781.6 3809.9C1787.6 3810.4 1793.5 3810.1 1800.0 3810.4C1806.5 3810.8 1810.3 3811.5 1820.3 3811.9C1830.4 3812.3 1847.1 3812.6 1860.5 3812.7C1873.9 3812.8 1887.3 3812.8 1900.7 3812.7C1914.1 3812.6 1927.5 3812.2 1940.9 3812.3C1954.3 3812.4 1967.6 3812.8 1981.0 3813.1C1994.4 3813.4 2007.8 3814.0 2021.2 3814.3C2034.6 3814.6 2048.0 3814.8 2061.4 3815.1C2074.8 3815.4 2088.2 3815.6 2101.5 3815.9C2114.9 3816.2 2128.3 3816.4 2141.7 3816.7C2155.1 3817.1 2168.5 3817.7 2181.9 3817.9C2195.3 3818.2 2208.7 3818.5 2222.1 3818.3C2235.5 3818.1 2252.5 3817.3 2262.2 3816.7C2271.9 3816.2 2277.3 3815.4 2280.3 3815.1" fill="none" stroke="#000" stroke-width="6.0" stroke-linejoin="round" />
<path d="M265.4 3649.1C276.4 3650.7 308.7 3655.5 331.7 3658.5C354.8 3661.4 379.6 3663.8 403.5 3667.1C427.4 3670.3 451.3 3673.3 475.2 3677.8C499.1 3682.4 523.0 3688.1 546.9 3694.3C570.9 3700.5 594.8 3710.0 618.7 3715.1C642.6 3720.3 674.4 3721.1 690.4 3725.2C706.4 3729.3 706.0 3735.5 714.8 3739.8C723.6 3744.1 733.9 3747.9 743.5 3751.2C753.1 3754.5 762.6 3757.5 772.2 3759.8C781.8 3762.1 791.3 3763.2 800.9 3765.0C810.5 3766.8 820.0 3767.8 829.6 3770.6C839.2 3773.4 848.7 3778.3 858.2 3782.0C867.8 3785.7 877.9 3789.4 886.9 3793.0C895.9 3796.6 902.5 3799.6 912.0 3803.5C921.5 3807.4 935.2 3812.5 944.0 3816.5C952.8 3820.5 960.7 3825.8 965.0 3827.5C969.3 3829.2 967.1 3825.6 969.6 3826.6C972.1 3827.6 974.7 3830.0 980.0 3833.2C985.3 3836.5 994.3 3841.5 1001.5 3846.1C1008.7 3850.8 1015.9 3856.2 1023.0 3861.2C1030.2 3866.2 1037.4 3870.0 1044.6 3876.3C1051.7 3882.5 1061.1 3893.1 1066.1 3898.9C1071.1 3904.6 1071.1 3906.0 1074.7 3910.7C1078.3 3915.4 1083.7 3921.6 1087.6 3926.8C1091.5 3932.0 1094.8 3937.2 1098.4 3941.9C1102.0 3946.6 1106.3 3951.8 1109.1 3954.8C1112.0 3957.9 1114.0 3958.7 1115.6 3960.2C1117.2 3961.7 1116.4 3962.4 1118.9 3964.0C1121.3 3965.6 1126.5 3967.9 1130.3 3969.8C1134.2 3971.7 1138.0 3973.1 1141.8 3975.5C1145.6 3977.9 1149.5 3982.2 1153.3 3984.1C1157.1 3986.0 1161.4 3986.3 1164.8 3987.0C1168.1 3987.7 1170.5 3987.0 1173.4 3988.4C1176.3 3989.9 1179.1 3993.9 1182.0 3995.6C1184.9 3997.3 1187.7 3996.6 1190.6 3998.5C1193.5 4000.4 1195.9 4004.4 1199.2 4007.1C1202.6 4009.7 1206.9 4012.8 1210.7 4014.3C1214.5 4015.7 1218.3 4015.0 1222.2 4015.7C1226.0 4016.4 1229.8 4017.4 1233.6 4018.6C1237.5 4019.8 1241.3 4021.9 1245.1 4022.9C1248.9 4023.8 1252.8 4023.8 1256.6 4024.3C1260.4 4024.8 1264.7 4024.8 1268.1 4025.7C1271.4 4026.7 1274.3 4027.9 1276.7 4030.0C1279.1 4032.2 1280.0 4035.3 1282.4 4038.6C1284.8 4042.0 1288.6 4047.7 1291.0 4050.1C1293.4 4052.5 1294.4 4053.5 1296.8 4053.0C1299.2 4052.5 1302.5 4049.4 1305.4 4047.2C1308.2 4045.1 1310.6 4042.0 1314.0 4040.1C1317.3 4038.2 1321.6 4036.7 1325.5 4035.8C1329.3 4034.8 1333.6 4035.8 1336.9 4034.3C1340.3 4032.9 1342.7 4030.3 1345.6 4027.2C1348.4 4024.1 1351.3 4020.0 1354.2 4015.7C1357.0 4011.4 1359.9 4006.1 1362.8 4001.3C1365.6 3996.6 1368.0 3992.3 1371.4 3987.0C1374.7 3981.7 1379.0 3975.3 1382.9 3969.8C1386.7 3964.3 1390.5 3959.3 1394.3 3954.0C1398.2 3948.7 1402.0 3943.7 1405.8 3938.2C1409.6 3932.7 1413.5 3926.7 1417.3 3921.0C1421.1 3915.3 1424.9 3909.0 1428.8 3903.8C1432.6 3898.5 1437.9 3891.5 1440.2 3889.4C1442.6 3887.3 1440.2 3893.7 1443.0 3891.1C1445.9 3888.5 1452.6 3879.6 1457.4 3873.9C1462.2 3868.1 1467.0 3861.9 1471.7 3856.6C1476.5 3851.4 1480.8 3846.6 1486.1 3842.3C1491.3 3838.0 1497.6 3834.6 1503.3 3830.8C1509.0 3827.0 1514.8 3823.2 1520.5 3819.3C1526.3 3815.5 1531.0 3811.7 1537.7 3807.9C1544.4 3804.0 1553.0 3799.3 1560.7 3796.4C1568.3 3793.5 1574.6 3793.0 1583.6 3790.6C1592.7 3788.3 1604.8 3784.4 1614.8 3782.3C1624.7 3780.1 1633.9 3779.1 1643.5 3777.7C1653.0 3776.2 1662.6 3774.8 1672.2 3773.6C1681.7 3772.5 1688.2 3771.3 1700.9 3770.8C1713.5 3770.3 1728.8 3770.3 1747.9 3770.8C1767.0 3771.3 1790.0 3772.7 1815.6 3773.6C1841.3 3774.6 1868.2 3775.8 1901.7 3776.5C1935.2 3777.3 1978.2 3777.5 2016.5 3778.2C2054.8 3779.0 2097.8 3780.4 2131.3 3781.1C2164.8 3781.8 2192.5 3782.1 2217.4 3782.3C2242.2 3782.4 2270.0 3782.3 2280.5 3782.3" fill="none" stroke="#0f0" stroke-width="6.0" stroke-linejoin="round" />
<path d="M265.4 3648.4C276.4 3650.0 308.7 3654.7 331.7 3657.7C354.8 3660.7 379.6 3663.1 403.5 3666.3C427.4 3669.6 451.3 3672.6 475.2 3677.1C499.1 3681.6 523.0 3687.4 546.9 3693.6C570.9 3699.8 594.8 3709.3 618.7 3714.4C642.6 3719.5 674.4 3720.2 690.4 3724.5C706.4 3728.7 706.0 3735.3 714.8 3739.8C723.6 3744.3 733.9 3747.9 743.5 3751.2C753.1 3754.5 762.6 3757.5 772.2 3759.8C781.8 3762.1 791.3 3763.1 800.9 3765.0C810.5 3766.9 820.0 3768.3 829.6 3771.2C839.2 3774.1 848.7 3778.8 858.2 3782.6C867.8 3786.4 877.3 3789.9 886.9 3794.0C896.5 3798.1 906.0 3802.4 915.6 3807.0C925.2 3811.6 935.3 3815.9 944.3 3821.3C953.3 3826.7 963.6 3835.5 969.6 3839.5C975.5 3843.6 974.7 3842.5 980.0 3845.6C985.3 3848.7 994.3 3853.4 1001.5 3858.0C1008.7 3862.6 1015.9 3867.7 1023.0 3873.0C1030.2 3878.4 1037.4 3883.6 1044.6 3890.3C1051.7 3896.9 1060.7 3907.3 1066.1 3912.9C1071.5 3918.4 1073.3 3919.7 1076.8 3923.6C1080.4 3927.6 1084.0 3932.2 1087.6 3936.5C1091.2 3940.8 1095.5 3947.8 1098.4 3949.4C1101.2 3951.1 1102.7 3946.2 1104.8 3946.2C1107.0 3946.2 1108.8 3948.7 1111.3 3949.4C1113.8 3950.2 1116.8 3949.4 1119.9 3950.5C1123.0 3951.6 1126.3 3953.6 1130.0 3955.9C1133.7 3958.1 1138.4 3961.2 1141.8 3964.0C1145.2 3966.8 1148.0 3969.3 1150.4 3972.6C1152.8 3976.0 1154.3 3981.3 1156.2 3984.1C1158.1 3987.0 1159.3 3986.0 1161.9 3989.9C1164.5 3993.7 1168.8 4002.8 1171.5 4007.3C1174.2 4011.9 1175.1 4014.9 1178.0 4017.0C1180.8 4019.2 1185.2 4019.0 1188.7 4020.3C1192.3 4021.5 1195.9 4023.1 1199.5 4024.6C1203.1 4026.0 1206.7 4028.0 1210.3 4028.9C1213.8 4029.8 1217.4 4029.9 1221.0 4029.9C1224.6 4029.9 1228.6 4030.1 1231.8 4028.9C1235.0 4027.6 1237.5 4026.7 1240.4 4022.4C1243.3 4018.1 1246.5 4010.6 1249.0 4003.0C1251.5 3995.5 1253.3 3983.7 1255.5 3977.2C1257.6 3970.8 1259.4 3966.3 1261.9 3964.3C1264.4 3962.3 1267.6 3964.3 1270.5 3965.4C1273.4 3966.5 1276.6 3967.4 1279.1 3970.8C1281.6 3974.2 1283.8 3979.7 1285.6 3985.8C1287.4 3991.9 1288.5 4000.9 1289.9 4007.3C1291.3 4013.8 1292.4 4019.5 1294.2 4024.6C1296.0 4029.6 1298.5 4033.9 1300.6 4037.5C1302.8 4041.1 1304.9 4046.8 1307.1 4046.1C1309.3 4045.4 1311.8 4036.8 1313.6 4033.2C1315.4 4029.6 1316.1 4025.3 1317.9 4024.6C1319.7 4023.8 1322.2 4026.7 1324.3 4028.9C1326.5 4031.0 1328.6 4035.3 1330.8 4037.5C1332.9 4039.6 1335.1 4040.9 1337.2 4041.8C1339.4 4042.7 1341.2 4043.2 1343.7 4042.9C1346.2 4042.5 1349.1 4042.7 1352.3 4039.6C1355.5 4036.6 1359.5 4030.7 1363.1 4024.6C1366.6 4018.5 1370.2 4010.2 1373.8 4003.0C1377.4 3995.9 1378.3 3993.3 1384.6 3981.5C1390.9 3969.8 1405.1 3944.0 1411.5 3932.5C1418.0 3920.9 1419.2 3918.6 1423.0 3912.4C1426.9 3906.2 1431.2 3900.2 1434.5 3895.2C1437.8 3890.2 1439.2 3887.9 1443.0 3882.5C1446.9 3877.0 1452.1 3869.1 1457.4 3862.4C1462.6 3855.7 1468.9 3848.5 1474.6 3842.3C1480.3 3836.1 1485.1 3830.3 1491.8 3825.1C1498.5 3819.8 1507.1 3814.8 1514.8 3810.7C1522.4 3806.7 1530.1 3803.8 1537.7 3800.7C1545.4 3797.6 1553.0 3794.7 1560.7 3792.1C1568.3 3789.5 1574.6 3788.0 1583.6 3784.9C1592.7 3781.8 1604.8 3776.3 1614.8 3773.6C1624.7 3771.0 1633.9 3770.5 1643.5 3769.1C1653.0 3767.6 1662.6 3766.2 1672.2 3765.0C1681.7 3763.9 1688.2 3762.9 1700.9 3762.2C1713.5 3761.4 1728.8 3760.4 1747.9 3760.4C1767.0 3760.5 1790.0 3762.0 1815.6 3762.7C1841.3 3763.5 1868.2 3764.2 1901.7 3765.0C1935.2 3765.9 1978.2 3767.1 2016.5 3767.9C2054.8 3768.7 2097.8 3769.2 2131.3 3769.6C2164.8 3770.1 2192.5 3770.6 2217.4 3770.8C2242.2 3771.0 2270.0 3770.8 2280.5 3770.8" fill="none" stroke="#00f" stroke-width="6.0" stroke-linejoin="round" />
<path d="M265.4 3649.1C276.4 3650.7 308.7 3655.5 331.7 3658.5C354.8 3661.4 379.6 3663.8 403.5 3667.1C427.4 3670.3 451.3 3673.3 475.2 3677.8C499.1 3682.4 523.0 3688.1 546.9 3694.3C570.9 3700.5 594.8 3710.0 618.7 3715.1C642.6 3720.3 674.4 3721.1 690.4 3725.2C706.4 3729.3 706.0 3735.5 714.8 3739.8C723.6 3744.1 733.9 3747.9 743.5 3751.2C753.1 3754.5 762.6 3757.5 772.2 3759.8C781.8 3762.1 791.3 3763.2 800.9 3765.0C810.5 3766.8 820.0 3767.9 829.6 3770.8C839.2 3773.7 848.7 3778.4 858.2 3782.2C867.8 3786.0 877.3 3789.5 886.9 3793.6C896.5 3797.7 906.0 3802.0 915.6 3806.6C925.2 3811.2 935.3 3815.7 944.3 3820.9C953.3 3826.1 963.6 3834.2 969.6 3838.1C975.5 3841.9 974.7 3841.0 980.0 3844.0C985.3 3846.9 994.3 3851.3 1001.5 3855.8C1008.7 3860.3 1015.9 3865.5 1023.0 3870.9C1030.2 3876.3 1037.4 3881.3 1044.6 3888.1C1051.7 3894.9 1060.7 3906.2 1066.1 3911.8C1071.5 3917.3 1073.3 3917.5 1076.8 3921.5C1080.4 3925.4 1084.4 3931.3 1087.6 3935.5C1090.8 3939.6 1094.4 3944.8 1096.2 3946.2C1098.0 3947.6 1097.1 3945.1 1098.4 3944.1C1099.6 3943.0 1102.0 3940.1 1103.7 3939.8C1105.5 3939.4 1106.8 3941.0 1109.1 3941.9C1111.5 3942.8 1115.2 3944.4 1117.7 3945.1C1120.2 3945.9 1122.1 3945.5 1124.2 3946.2C1126.2 3946.9 1128.0 3947.9 1130.0 3949.4C1132.0 3951.0 1133.2 3953.2 1136.1 3955.4C1139.0 3957.6 1144.7 3959.3 1147.6 3962.6C1150.4 3965.9 1151.6 3971.4 1153.3 3975.5C1155.0 3979.6 1156.2 3986.5 1157.6 3987.0C1159.0 3987.5 1160.7 3980.3 1161.9 3978.4C1163.1 3976.5 1163.5 3973.9 1164.8 3975.5C1166.0 3977.1 1167.9 3983.0 1169.4 3988.0C1170.9 3992.9 1172.2 4000.7 1173.7 4005.2C1175.1 4009.7 1175.5 4012.7 1178.0 4014.9C1180.5 4017.0 1185.2 4016.9 1188.7 4018.1C1192.3 4019.4 1195.9 4020.8 1199.5 4022.4C1203.1 4024.0 1207.0 4027.1 1210.3 4027.8C1213.5 4028.5 1215.6 4026.6 1218.9 4026.7C1222.1 4026.8 1226.4 4028.8 1229.6 4028.4C1232.9 4028.1 1235.7 4027.7 1238.2 4024.6C1240.7 4021.4 1242.9 4014.9 1244.7 4009.5C1246.5 4004.1 1247.6 3998.4 1249.0 3992.3C1250.4 3986.2 1251.6 3980.0 1253.3 3972.9C1255.0 3965.8 1257.5 3956.4 1259.5 3949.7C1261.5 3942.9 1263.3 3935.8 1265.2 3932.5C1267.1 3929.1 1269.0 3928.6 1270.9 3929.6C1272.9 3930.6 1274.8 3933.9 1276.7 3938.2C1278.6 3942.5 1280.5 3948.7 1282.4 3955.4C1284.3 3962.1 1286.7 3971.2 1288.2 3978.4C1289.6 3985.6 1290.0 3994.4 1291.0 3998.5C1292.0 4002.6 1292.6 4000.7 1294.2 4003.0C1295.8 4005.4 1298.9 4010.6 1300.6 4012.7C1302.4 4014.9 1303.5 4012.9 1304.9 4016.0C1306.4 4019.0 1307.8 4027.1 1309.3 4031.0C1310.7 4035.0 1311.8 4040.0 1313.6 4039.6C1315.4 4039.3 1318.2 4029.9 1320.0 4028.9C1321.8 4027.8 1322.5 4030.7 1324.3 4033.2C1326.1 4035.7 1329.0 4041.4 1330.8 4043.9C1332.6 4046.4 1332.9 4047.5 1335.1 4048.2C1337.2 4049.0 1340.8 4049.3 1343.7 4048.2C1346.6 4047.2 1349.4 4044.3 1352.3 4041.8C1355.2 4039.3 1357.7 4037.5 1360.9 4033.2C1364.1 4028.9 1368.1 4022.1 1371.7 4016.0C1375.3 4009.9 1378.8 4003.0 1382.4 3996.6C1386.0 3990.1 1388.3 3985.5 1393.2 3977.2C1398.0 3968.9 1406.6 3955.2 1411.5 3946.8C1416.5 3938.4 1419.2 3933.9 1423.0 3926.7C1426.9 3919.6 1431.2 3910.7 1434.5 3903.8C1437.8 3896.9 1439.2 3892.2 1443.0 3885.3C1446.9 3878.4 1452.6 3869.6 1457.4 3862.4C1462.2 3855.2 1467.0 3848.0 1471.7 3842.3C1476.5 3836.6 1480.8 3832.3 1486.1 3828.0C1491.3 3823.6 1497.6 3820.3 1503.3 3816.5C1509.0 3812.6 1513.8 3808.6 1520.5 3805.0C1527.2 3801.4 1535.8 3797.8 1543.5 3795.0C1551.1 3792.1 1558.8 3790.4 1566.4 3787.8C1574.1 3785.2 1581.3 3783.0 1589.4 3779.2C1597.4 3775.4 1605.8 3768.2 1614.8 3765.0C1623.8 3761.9 1633.9 3761.9 1643.5 3760.4C1653.0 3759.0 1662.6 3757.6 1672.2 3756.4C1681.7 3755.3 1688.2 3754.2 1700.9 3753.6C1713.5 3752.9 1728.8 3752.2 1747.9 3752.4C1767.0 3752.6 1790.0 3753.8 1815.6 3754.7C1841.3 3755.7 1868.2 3757.2 1901.7 3758.2C1935.2 3759.1 1978.2 3759.8 2016.5 3760.4C2054.8 3761.1 2097.8 3761.8 2131.3 3762.2C2164.8 3762.6 2192.5 3762.6 2217.4 3762.7C2242.2 3762.8 2270.0 3762.7 2280.5 3762.7" fill="none" stroke="#f00" stroke-width="6.0" stroke-linejoin="round" />
<path d="M265.4 3650.6C276.4 3652.2 308.7 3657.1 331.7 3660.2C354.8 3663.4 379.6 3665.9 403.5 3669.2C427.4 3672.5 451.3 3675.5 475.2 3680.0C499.1 3684.5 523.0 3690.0 546.9 3696.1C570.9 3702.2 594.8 3711.5 618.7 3716.6C642.6 3721.6 674.4 3722.8 690.4 3726.6C706.4 3730.4 706.0 3735.3 714.8 3739.3C723.6 3743.3 733.9 3747.4 743.5 3750.7C753.1 3754.0 762.2 3757.3 772.2 3759.3C782.2 3761.3 794.1 3761.0 803.7 3762.8C813.3 3764.7 820.5 3767.2 829.6 3770.4C838.7 3773.6 848.7 3778.1 858.2 3781.9C867.8 3785.7 877.3 3789.2 886.9 3793.3C896.5 3797.4 906.0 3801.8 915.6 3806.3C925.2 3810.9 934.7 3815.7 944.3 3820.6C953.9 3825.5 967.0 3832.9 973.0 3835.8C979.0 3838.7 975.2 3835.5 980.0 3838.1C984.8 3840.7 994.3 3846.8 1001.5 3851.5C1008.7 3856.3 1015.9 3861.4 1023.0 3866.6C1030.2 3871.8 1037.4 3876.3 1044.6 3882.7C1051.7 3889.2 1061.1 3899.8 1066.1 3905.3C1071.1 3910.9 1071.1 3911.4 1074.7 3916.1C1078.3 3920.7 1083.7 3927.7 1087.6 3933.3C1091.5 3938.9 1094.8 3945.1 1098.4 3949.4C1102.0 3953.7 1105.5 3957.0 1109.1 3959.1C1112.7 3961.3 1116.4 3960.6 1119.9 3962.4C1123.4 3964.1 1125.0 3965.6 1130.0 3969.9C1135.0 3974.2 1145.6 3983.2 1150.0 3988.0C1154.4 3992.8 1154.3 3997.7 1156.5 3998.7C1158.6 3999.8 1161.1 3994.8 1162.9 3994.4C1164.7 3994.1 1165.8 3994.1 1167.2 3996.6C1168.7 3999.1 1169.7 4005.6 1171.5 4009.5C1173.3 4013.4 1175.5 4017.4 1178.0 4020.3C1180.5 4023.1 1183.4 4024.6 1186.6 4026.7C1189.8 4028.9 1193.8 4031.0 1197.3 4033.2C1200.9 4035.3 1204.9 4038.2 1208.1 4039.6C1211.3 4041.1 1213.5 4042.0 1216.7 4041.8C1219.9 4041.6 1223.9 4039.8 1227.5 4038.6C1231.1 4037.3 1235.0 4036.2 1238.2 4034.2C1241.5 4032.3 1244.0 4030.1 1246.8 4026.7C1249.7 4023.3 1252.9 4017.7 1255.5 4013.8C1258.0 4009.9 1259.8 4006.8 1261.9 4003.0C1264.1 3999.3 1266.4 3993.0 1268.4 3991.2C1270.3 3989.4 1272.0 3990.3 1273.7 3992.3C1275.5 3994.3 1277.5 3997.7 1279.1 4003.0C1280.7 4008.4 1282.0 4017.4 1283.4 4024.6C1284.9 4031.7 1286.3 4039.6 1287.7 4046.1C1289.2 4052.5 1290.2 4057.2 1292.0 4063.3C1293.8 4069.4 1296.3 4077.6 1298.5 4082.7C1300.6 4087.7 1303.2 4092.4 1304.9 4093.4C1306.7 4094.5 1307.8 4095.2 1309.3 4089.1C1310.7 4083.0 1312.1 4064.4 1313.6 4056.8C1315.0 4049.3 1316.4 4046.3 1317.9 4043.9C1319.3 4041.6 1320.4 4042.1 1322.2 4042.9C1324.0 4043.6 1326.5 4046.6 1328.6 4048.2C1330.8 4049.8 1332.6 4051.5 1335.1 4052.5C1337.6 4053.6 1340.5 4055.1 1343.7 4054.7C1346.9 4054.3 1350.9 4052.5 1354.4 4050.4C1358.0 4048.2 1361.6 4046.1 1365.2 4041.8C1368.8 4037.5 1372.4 4030.7 1376.0 4024.6C1379.6 4018.5 1383.1 4011.6 1386.7 4005.2C1390.3 3998.7 1393.9 3992.3 1397.5 3985.8C1401.1 3979.4 1404.0 3974.9 1408.2 3966.5C1412.5 3958.0 1418.7 3944.8 1423.0 3935.3C1427.4 3925.9 1431.2 3915.9 1434.5 3909.5C1437.8 3903.1 1439.2 3902.8 1443.0 3896.8C1446.9 3890.9 1452.6 3881.0 1457.4 3873.9C1462.2 3866.7 1467.0 3860.0 1471.7 3853.8C1476.5 3847.6 1480.8 3842.1 1486.1 3836.6C1491.3 3831.1 1497.6 3826.0 1503.3 3820.8C1509.0 3815.5 1514.8 3809.8 1520.5 3805.0C1526.3 3800.2 1532.0 3796.1 1537.7 3792.1C1543.5 3788.0 1549.2 3784.2 1554.9 3780.6C1560.7 3777.0 1565.5 3773.7 1572.2 3770.6C1578.9 3767.5 1588.0 3764.0 1595.1 3762.0C1602.2 3759.9 1606.7 3759.7 1614.8 3758.2C1622.8 3756.6 1633.9 3754.1 1643.5 3752.4C1653.0 3750.7 1662.6 3749.1 1672.2 3747.8C1681.7 3746.6 1688.2 3745.6 1700.9 3745.0C1713.5 3744.3 1728.8 3743.8 1747.9 3743.8C1767.0 3743.8 1790.0 3744.5 1815.6 3745.0C1841.3 3745.4 1868.2 3746.2 1901.7 3746.7C1935.2 3747.2 1978.2 3747.6 2016.5 3747.8C2054.8 3748.0 2097.8 3748.0 2131.3 3747.8C2164.8 3747.6 2192.5 3746.9 2217.4 3746.7C2242.2 3746.5 2270.0 3746.7 2280.5 3746.7" fill="none" stroke="#0ff" stroke-width="6.0" stroke-linejoin="round" />
<path d="M265.4 3653.1C276.4 3654.7 308.7 3659.7 331.7 3662.8C354.8 3665.9 385.5 3669.5 403.5 3671.7C421.4 3673.9 427.4 3674.2 439.3 3676.0C451.3 3677.8 463.3 3680.0 475.2 3682.5C487.2 3685.0 499.1 3688.4 511.1 3691.1C523.0 3693.8 535.0 3696.0 546.9 3698.6C558.9 3701.3 574.0 3704.7 582.8 3706.9C591.7 3709.0 592.4 3709.4 600.0 3711.6C607.6 3713.8 619.1 3717.8 628.7 3720.2C638.3 3722.6 647.8 3724.2 657.4 3725.9C667.0 3727.6 676.5 3727.8 686.1 3730.2C695.7 3732.6 705.2 3736.7 714.8 3740.3C724.4 3743.9 733.9 3748.4 743.5 3751.7C753.1 3755.0 762.6 3757.7 772.2 3760.3C781.8 3762.9 791.3 3764.6 800.9 3767.5C810.5 3770.4 820.0 3774.0 829.6 3777.6C839.2 3781.2 848.7 3785.2 858.2 3789.0C867.8 3792.8 877.3 3796.4 886.9 3800.5C896.5 3804.6 906.0 3808.6 915.6 3813.4C925.2 3818.2 934.7 3823.7 944.3 3829.2C953.9 3834.7 967.0 3842.9 973.0 3846.4C979.0 3849.9 975.2 3847.8 980.0 3850.4C984.8 3853.1 994.3 3857.8 1001.5 3862.3C1008.7 3866.8 1015.9 3872.0 1023.0 3877.3C1030.2 3882.7 1037.4 3887.7 1044.6 3894.6C1051.7 3901.4 1061.1 3912.5 1066.1 3918.2C1071.1 3924.0 1071.1 3925.1 1074.7 3929.0C1078.3 3932.9 1083.7 3937.8 1087.6 3941.9C1091.5 3946.0 1094.8 3949.8 1098.4 3953.7C1102.0 3957.7 1105.5 3962.0 1109.1 3965.6C1112.7 3969.2 1116.4 3972.9 1119.9 3975.3C1123.4 3977.7 1127.3 3977.6 1130.0 3980.0C1132.7 3982.4 1132.7 3985.8 1136.1 3989.9C1139.5 3993.9 1145.6 3999.4 1150.4 4004.2C1155.2 4009.0 1161.3 4015.2 1164.8 4018.6C1168.3 4021.9 1168.6 4022.1 1171.5 4024.6C1174.4 4027.0 1178.7 4030.3 1182.3 4033.2C1185.9 4036.0 1189.5 4039.6 1193.0 4041.8C1196.6 4043.9 1200.2 4044.6 1203.8 4046.1C1207.4 4047.5 1211.0 4048.6 1214.6 4050.4C1218.1 4052.2 1221.7 4054.3 1225.3 4056.8C1228.9 4059.4 1232.5 4063.7 1236.1 4065.5C1239.7 4067.2 1243.3 4066.9 1246.8 4067.6C1250.4 4068.3 1254.0 4069.0 1257.6 4069.8C1261.2 4070.5 1264.8 4070.7 1268.4 4071.9C1272.0 4073.2 1275.9 4075.1 1279.1 4077.3C1282.4 4079.4 1285.2 4082.8 1287.7 4084.8C1290.2 4086.8 1292.0 4088.8 1294.2 4089.1C1296.3 4089.5 1298.1 4088.8 1300.6 4087.0C1303.2 4085.2 1306.4 4082.0 1309.3 4078.4C1312.1 4074.8 1315.4 4069.0 1317.9 4065.5C1320.4 4061.9 1321.8 4059.4 1324.3 4056.8C1326.8 4054.3 1329.7 4051.8 1332.9 4050.4C1336.2 4049.0 1340.1 4049.0 1343.7 4048.2C1347.3 4047.5 1350.9 4047.2 1354.4 4046.1C1358.0 4045.0 1361.6 4043.9 1365.2 4041.8C1368.8 4039.6 1372.4 4036.8 1376.0 4033.2C1379.6 4029.6 1383.1 4025.6 1386.7 4020.3C1390.3 4014.9 1394.3 4006.4 1397.5 4000.9C1400.7 3995.3 1402.5 3992.7 1405.8 3987.0C1409.1 3981.3 1413.5 3974.1 1417.3 3966.9C1421.1 3959.7 1424.5 3953.7 1428.8 3943.9C1433.1 3934.2 1438.3 3918.5 1443.0 3908.3C1447.8 3898.1 1452.6 3890.1 1457.4 3882.5C1462.2 3874.8 1467.0 3868.6 1471.7 3862.4C1476.5 3856.2 1480.8 3851.4 1486.1 3845.2C1491.3 3839.0 1497.6 3831.8 1503.3 3825.1C1509.0 3818.4 1514.8 3811.0 1520.5 3805.0C1526.3 3799.0 1532.0 3794.0 1537.7 3789.2C1543.5 3784.4 1549.2 3780.1 1554.9 3776.3C1560.7 3772.5 1565.5 3769.1 1572.2 3766.3C1578.9 3763.4 1588.0 3761.7 1595.1 3759.1C1602.2 3756.5 1606.7 3753.0 1614.8 3750.7C1622.8 3748.3 1633.9 3746.6 1643.5 3745.0C1653.0 3743.3 1662.6 3742.1 1672.2 3740.9C1681.7 3739.8 1688.2 3738.6 1700.9 3738.1C1713.5 3737.5 1724.0 3737.5 1747.9 3737.5C1771.8 3737.5 1809.1 3738.0 1844.3 3738.1C1879.5 3738.2 1920.9 3738.1 1959.1 3738.1C1997.4 3738.1 2035.6 3738.2 2073.9 3738.1C2112.1 3738.0 2154.2 3737.8 2188.7 3737.5C2223.1 3737.2 2265.2 3736.5 2280.5 3736.3" fill="none" stroke="#f0f" stroke-width="6.0" stroke-linejoin="round" />
<line x1="1075.0" y1="3511.7" x2="1075.0" y2="4259.4" stroke="#000" stroke-width="2" stroke-dasharray="15.5 5 4.5 5" stroke-dashoffset="11"/>
<line x1="1162.0" y1="3511.7" x2="1162.0" y2="4259.4" stroke="#000" stroke-width="2" stroke-dasharray="15.5 5 4.5 5" stroke-dashoffset="11"/>
<line x1="1336.0" y1="3511.7" x2="1336.0" y2="4259.4" stroke="#000" stroke-width="2" stroke-dasharray="15.5 5 4.5 5" stroke-dashoffset="11"/>
<path d="M1075 3511.7v35.5M1162 3521.9v24.8" stroke="#000" stroke-width="2"/>
<line x1="1748.3" y1="3511.7" x2="1748.3" y2="4259.4" stroke="#000" stroke-width="1.6"/>
<path d="M1075.0 3579.5 L1104.0 3580.3 L1163.0 3581.9 L1157.6 3583.7 L1153.3 3590.2 L1152.2 3597.7 L1153.8 3606.3 L1157.6 3611.7 L1162.0 3614.4 L1171.6 3614.4 L1200.0 3609.0 L1210.7 3607.3 L1240.0 3603.2 L1274.1 3598.5 L1296.1 3597.0 L1315.6 3598.0 L1336.1 3600.2 L1345.4 3601.9" fill="none" stroke="#000" stroke-width="3.6" stroke-linejoin="round"/>
<rect x="266.0" y="3511.7" width="2156.0" height="747.7" fill="none" stroke="#262626" stroke-width="1.9"/>
<path d="M400.8 4259.4v-22M400.8 3511.7v22M737.6 4259.4v-22M737.6 3511.7v22M1074.5 4259.4v-22M1074.5 3511.7v22M1411.4 4259.4v-22M1411.4 3511.7v22M1748.3 4259.4v-22M1748.3 3511.7v22M2085.1 4259.4v-22M2085.1 3511.7v22M2422.0 4259.4v-22M2422.0 3511.7v22M266.0 3579.7h22M2422.0 3579.7h-22M266.0 3715.6h22M2422.0 3715.6h-22M266.0 3851.6h22M2422.0 3851.6h-22M266.0 3987.5h22M2422.0 3987.5h-22M266.0 4123.5h22M2422.0 4123.5h-22M266.0 4259.4h22M2422.0 4259.4h-22" stroke="#262626" stroke-width="1.9" fill="none"/>
<text x="400.8" y="4343.7" class="tl" text-anchor="middle">-1</text>
<text x="737.6" y="4343.7" class="tl" text-anchor="middle">-0.75</text>
<text x="1074.5" y="4343.7" class="tl" text-anchor="middle">-0.5</text>
<text x="1411.4" y="4343.7" class="tl" text-anchor="middle">-0.25</text>
<text x="1748.3" y="4343.7" class="tl" text-anchor="middle">0</text>
<text x="2085.1" y="4343.7" class="tl" text-anchor="middle">0.25</text>
<text x="2422.0" y="4343.7" class="tl" text-anchor="middle">0.5</text>
<text x="247" y="3603.5" class="tl" text-anchor="end">-0.2</text>
<text x="247" y="3739.4" class="tl" text-anchor="end">-0.3</text>
<text x="247" y="3875.4" class="tl" text-anchor="end">-0.4</text>
<text x="247" y="4011.3" class="tl" text-anchor="end">-0.5</text>
<text x="247" y="4147.3" class="tl" text-anchor="end">-0.6</text>
<text x="247" y="4283.2" class="tl" text-anchor="end">-0.7</text>
<text x="1038" y="4429.1" class="al" text-anchor="middle">x/D</text>
<text x="1938" y="4430.3" class="al">(y<tspan class="sub" dy="36.9">base</tspan><tspan dy="-36.9">-y)/D</tspan></text>
<g transform="translate(77.5 3886.2) rotate(-90)">
<text class="br" transform="translate(-108.5 11.2) scale(0.463 0.804)">&#x3008;</text>
<text x="-42" y="0" class="al">C</text>
<text x="8.4" y="37.6" class="al sub2">p</text>
<text class="br" transform="translate(62.2 11.2) scale(0.46 0.804)">&#x3009;</text>
</g>
<rect x="290.1" y="3776.9" width="506.4" height="456.8" fill="#fff" stroke="#262626" stroke-width="1.6"/>
<line x1="298.9" y1="3813.2" x2="393.2" y2="3813.2" stroke="#000" stroke-width="6" stroke-dasharray="16.2 13.3"/>
<text x="400" y="3832.9" class="lg">no groove</text>
<line x1="298.9" y1="3877.3" x2="393.2" y2="3877.3" stroke="#000" stroke-width="6" />
<text x="400" y="3897.0" class="lg">extruded groove</text>
<line x1="298.9" y1="3941.4" x2="393.2" y2="3941.4" stroke="#0f0" stroke-width="6" />
<text x="400" y="3961.1" class="lg">4 DG, z/D=0</text>
<line x1="298.9" y1="4005.5" x2="393.2" y2="4005.5" stroke="#00f" stroke-width="6" />
<text x="400" y="4025.2" class="lg">4 DG, z/D=0.357</text>
<line x1="298.9" y1="4069.6" x2="393.2" y2="4069.6" stroke="#f00" stroke-width="6" />
<text x="400" y="4089.3" class="lg">4 DG, z/D=0.714</text>
<line x1="298.9" y1="4133.7" x2="393.2" y2="4133.7" stroke="#0ff" stroke-width="6" />
<text x="400" y="4153.4" class="lg">4 DG, z/D=1.071</text>
<line x1="298.9" y1="4197.8" x2="393.2" y2="4197.8" stroke="#f0f" stroke-width="6" />
<text x="400" y="4217.5" class="lg">4 DG, z/D=1.428</text>
<text x="1233.8" y="4566.7" class="cap" text-anchor="middle">(<tspan font-weight="bold">d</tspan>)</text>
</svg></body></html>
